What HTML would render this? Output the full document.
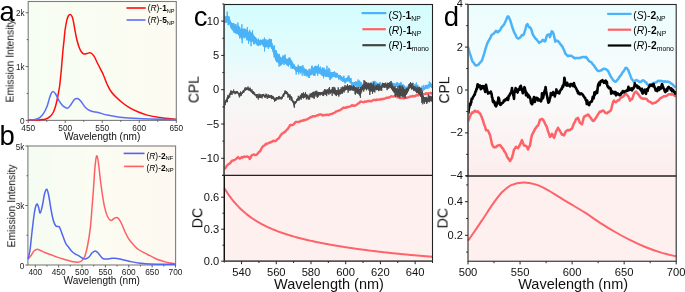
<!DOCTYPE html>
<html><head><meta charset="utf-8"><style>
html,body{margin:0;padding:0;background:#fff;width:685px;height:292px;overflow:hidden}
svg{display:block;font-family:"Liberation Sans", sans-serif;-webkit-font-smoothing:antialiased}
text{will-change:transform}
</style></head><body>
<svg xmlns="http://www.w3.org/2000/svg" width="685" height="292" viewBox="0 0 685 292" font-family='"Liberation Sans", sans-serif'>
<defs><linearGradient id="ga" x1="0" y1="0" x2="1" y2="0"><stop offset="0" stop-color="#f6fef3"/><stop offset="1" stop-color="#fdfbf2"/></linearGradient>
<linearGradient id="gb" x1="0" y1="0" x2="1" y2="0"><stop offset="0" stop-color="#f5fcf2"/><stop offset="0.5" stop-color="#fcfcf2"/><stop offset="1" stop-color="#fdf8f1"/></linearGradient>
<linearGradient id="gc" x1="0" y1="0" x2="0" y2="1"><stop offset="0" stop-color="#d3fdfe"/><stop offset="0.25" stop-color="#e1fcfd"/><stop offset="0.5" stop-color="#f6f8f8"/><stop offset="0.75" stop-color="#fbf2f2"/><stop offset="1" stop-color="#fdeded"/></linearGradient>
<linearGradient id="gd" x1="0" y1="0" x2="0" y2="1"><stop offset="0" stop-color="#ebfdfe"/><stop offset="0.5" stop-color="#f9fbfb"/><stop offset="1" stop-color="#fdeded"/></linearGradient></defs>
<rect width="685" height="292" fill="#fff"/>
<rect x="28.2" y="1.5" width="148.10000000000002" height="118.9" fill="url(#ga)"/>
<rect x="28.2" y="1.5" width="148.10000000000002" height="118.9" fill="none" stroke="#7d7d7d" stroke-width="1.1"/>
<path d="M28.2 120.2C29.5 120.18 33.7 120.2 36 120.1C38.3 120 40.48 119.75 42 119.6C43.52 119.45 44.1 119.47 45.1 119.2C46.1 118.93 47.08 118.52 48 118C48.92 117.48 49.73 117.02 50.6 116.1C51.47 115.18 52.5 113.75 53.2 112.5C53.9 111.25 54.28 110.15 54.8 108.6C55.32 107.05 55.83 105.05 56.3 103.2C56.77 101.35 57.2 99.45 57.6 97.5C58 95.55 58.35 93.5 58.7 91.5C59.05 89.5 59.4 87.75 59.7 85.5C60 83.25 60.23 80.58 60.5 78C60.77 75.42 60.9 74.5 61.3 70C61.7 65.5 62.45 55.87 62.9 51C63.35 46.13 63.65 44.22 64 40.8C64.35 37.38 64.53 33.92 65 30.5C65.47 27.08 66.25 22.72 66.8 20.3C67.35 17.88 67.75 16.95 68.3 16C68.85 15.05 69.52 14.6 70.1 14.6C70.68 14.6 71.28 15.05 71.8 16C72.32 16.95 72.67 17.88 73.2 20.3C73.73 22.72 74.35 27.08 75 30.5C75.65 33.92 76.37 37.88 77.1 40.8C77.83 43.72 78.67 46.13 79.4 48C80.13 49.87 80.78 51.02 81.5 52C82.22 52.98 82.77 53.67 83.7 53.9C84.63 54.13 85.95 53.57 87.1 53.4C88.25 53.23 89.45 52.43 90.6 52.9C91.75 53.37 92.87 54.52 94 56.2C95.13 57.88 96.25 60.72 97.4 63C98.55 65.28 99.93 67.98 100.9 69.9C101.87 71.82 102.18 72.15 103.2 74.5C104.22 76.85 105.6 81.03 107 84C108.4 86.97 109.38 89.47 111.6 92.3C113.82 95.13 117.4 98.48 120.3 101C123.2 103.52 126.18 105.65 129 107.4C131.82 109.15 134.18 110.22 137.2 111.5C140.22 112.78 143.38 114.08 147.1 115.1C150.82 116.12 154.63 116.88 159.5 117.6C164.37 118.32 173.5 119.1 176.3 119.4" fill="none" stroke="#ff0d0d" stroke-width="1.5"/>
<path d="M28.2 119.6C29.33 119.58 33.02 119.88 35 119.5C36.98 119.12 38.62 118.4 40.1 117.3C41.58 116.2 42.75 114.68 43.9 112.9C45.05 111.12 46.05 109.13 47 106.6C47.95 104.07 48.85 99.98 49.6 97.7C50.35 95.42 50.87 93.92 51.5 92.9C52.13 91.88 52.67 91.33 53.4 91.6C54.13 91.87 54.95 92.95 55.9 94.5C56.85 96.05 57.93 99 59.1 100.9C60.27 102.8 61.53 104.68 62.9 105.9C64.27 107.12 66.03 108.3 67.3 108.2C68.57 108.1 69.33 106.73 70.5 105.3C71.67 103.87 73.13 100.73 74.3 99.6C75.47 98.47 76.43 98.28 77.5 98.5C78.57 98.72 79.33 99.35 80.7 100.9C82.07 102.45 84.02 106.12 85.7 107.8C87.38 109.48 88.68 110.2 90.8 111C92.92 111.8 95.63 111.92 98.4 112.6C101.17 113.28 103.83 114.33 107.4 115.1C110.97 115.87 114.63 116.63 119.8 117.2C124.97 117.77 128.98 118.1 138.4 118.5C147.82 118.9 169.98 119.42 176.3 119.6" fill="none" stroke="#5b6ff6" stroke-width="1.5"/>
<path d="M25.7 120.4H28.2M26.7 93.48H28.2M25.7 66.55H28.2M26.7 39.62H28.2M25.7 12.7H28.2M28.2 120.4V122.9M46.71 120.4V121.9M65.23 120.4V122.9M83.74 120.4V121.9M102.25 120.4V122.9M120.76 120.4V121.9M139.28 120.4V122.9M157.79 120.4V121.9M176.3 120.4V122.9" stroke="#555" stroke-width="0.9" fill="none"/>
<text x="24.6" y="123.9" font-size="8.2" text-anchor="end" fill="#222" >0</text>
<text x="24.6" y="70.05" font-size="8.2" text-anchor="end" fill="#222" >1k</text>
<text x="24.6" y="16.2" font-size="8.2" text-anchor="end" fill="#222" >2k</text>
<text x="28.2" y="131" font-size="8.3" text-anchor="middle" fill="#222" >450</text>
<text x="65.23" y="131" font-size="8.3" text-anchor="middle" fill="#222" >500</text>
<text x="102.25" y="131" font-size="8.3" text-anchor="middle" fill="#222" >550</text>
<text x="139.28" y="131" font-size="8.3" text-anchor="middle" fill="#222" >600</text>
<text x="176.3" y="131" font-size="8.3" text-anchor="middle" fill="#222" >650</text>
<text x="63.9" y="139.6" font-size="10.1" text-anchor="start" fill="#111" >Wavelength (nm)</text>
<text transform="translate(13.6 60.9) rotate(-90)" font-size="10.3" text-anchor="middle" fill="#111">Emission Intensity</text>
<path d="M126.4 8H145.7" stroke="#ff0d0d" stroke-width="1.6"/>
<path d="M126.6 20H145.5" stroke="#5b6ff6" stroke-width="1.6"/>
<text x="147.7" y="10.9" font-size="8.4">(<tspan font-style="italic">R</tspan>)-<tspan font-weight="bold">1</tspan><tspan font-size="5.6" dy="1.6">NP</tspan></text>
<text x="147.7" y="22.9" font-size="8.4">(<tspan font-style="italic">R</tspan>)-<tspan font-weight="bold">5</tspan><tspan font-size="5.6" dy="1.6">NP</tspan></text>
<rect x="27.9" y="146.0" width="147.7" height="119.0" fill="url(#gb)"/>
<rect x="27.9" y="146.0" width="147.7" height="119.0" fill="none" stroke="#7d7d7d" stroke-width="1.1"/>
<path d="M28 259C28.5 258.42 30 256.83 31 255.5C32 254.17 32.95 252.03 34 251C35.05 249.97 36.13 249.33 37.3 249.3C38.47 249.27 39.63 250.22 41 250.8C42.37 251.38 43.83 252.13 45.5 252.8C47.17 253.47 49.07 254.08 51 254.8C52.93 255.52 54.93 256.35 57.1 257.1C59.27 257.85 61.57 258.57 64 259.3C66.43 260.03 69.45 261 71.7 261.5C73.95 262 75.87 262.38 77.5 262.3C79.13 262.22 80.28 262 81.5 261C82.72 260 83.8 258.8 84.8 256.3C85.8 253.8 86.58 250.68 87.5 246C88.42 241.32 89.55 234.53 90.3 228.2C91.05 221.87 91.45 214.85 92 208C92.55 201.15 93.1 193.93 93.6 187.1C94.1 180.27 94.5 172.18 95 167C95.5 161.82 96.05 156.83 96.6 156C97.15 155.17 97.65 157.83 98.3 162C98.95 166.17 99.78 175.33 100.5 181C101.22 186.67 101.9 191.55 102.6 196C103.3 200.45 103.88 204.28 104.7 207.7C105.52 211.12 106.48 214.37 107.5 216.5C108.52 218.63 109.72 220.17 110.8 220.5C111.88 220.83 113.05 219.02 114 218.5C114.95 217.98 115.75 217.4 116.5 217.4C117.25 217.4 117.67 217.48 118.5 218.5C119.33 219.52 120.38 221.2 121.5 223.5C122.62 225.8 123.95 229.67 125.2 232.3C126.45 234.93 127.63 237.25 129 239.3C130.37 241.35 131.83 242.9 133.4 244.6C134.97 246.3 136.47 248.07 138.4 249.5C140.33 250.93 143.07 252.17 145 253.2C146.93 254.23 148.33 254.87 150 255.7C151.67 256.53 153.33 257.43 155 258.2C156.67 258.97 158.33 259.68 160 260.3C161.67 260.92 163.33 261.45 165 261.9C166.67 262.35 168.23 262.68 170 263C171.77 263.32 174.67 263.67 175.6 263.8" fill="none" stroke="#fd5f67" stroke-width="1.5"/>
<path d="M28 259.2C28.33 257.67 29.33 254.53 30 250C30.67 245.47 31.25 238.33 32 232C32.75 225.67 33.72 216.63 34.5 212C35.28 207.37 36.03 205.03 36.7 204.2C37.37 203.37 37.92 205.53 38.5 207C39.08 208.47 39.53 213.33 40.2 213C40.87 212.67 41.78 208.17 42.5 205C43.22 201.83 43.78 196.62 44.5 194C45.22 191.38 46.08 188.97 46.8 189.3C47.52 189.63 48.05 192.38 48.8 196C49.55 199.62 50.52 206.83 51.3 211C52.08 215.17 52.77 218.53 53.5 221C54.23 223.47 54.95 224.88 55.7 225.8C56.45 226.72 57.35 226.23 58 226.5C58.65 226.77 58.85 225.98 59.6 227.4C60.35 228.82 61.47 232.32 62.5 235C63.53 237.68 64.75 241.42 65.8 243.5C66.85 245.58 67.82 246.2 68.8 247.5C69.78 248.8 70.67 250.25 71.7 251.3C72.73 252.35 73.8 253.05 75 253.8C76.2 254.55 77.52 255 78.9 255.8C80.28 256.6 82.12 258.1 83.3 258.6C84.48 259.1 85.05 259.07 86 258.8C86.95 258.53 88 257.97 89 257C90 256.03 90.93 254.02 92 253C93.07 251.98 94.32 250.82 95.4 250.9C96.48 250.98 97.3 252.27 98.5 253.5C99.7 254.73 101.18 257.38 102.6 258.3C104.02 259.22 105.43 259 107 259C108.57 259 110.33 258.4 112 258.3C113.67 258.2 115.33 258.18 117 258.4C118.67 258.62 119.83 259.1 122 259.6C124.17 260.1 127 260.8 130 261.4C133 262 136.67 262.77 140 263.2C143.33 263.63 144.07 263.82 150 264C155.93 264.18 171.33 264.25 175.6 264.3" fill="none" stroke="#5065f2" stroke-width="1.5"/>
<path d="M25.4 146H27.9M26.4 175.75H27.9M25.4 205.5H27.9M26.4 235.25H27.9M25.4 265H27.9M35.3 265V267.5M46.98 265V266.5M58.66 265V267.5M70.35 265V266.5M82.03 265V267.5M93.71 265V266.5M105.39 265V267.5M117.08 265V266.5M128.76 265V267.5M140.44 265V266.5M152.12 265V267.5M163.81 265V266.5M175.49 265V267.5" stroke="#555" stroke-width="0.9" fill="none"/>
<text x="24.3" y="149.5" font-size="8.2" text-anchor="end" fill="#222" >5k</text>
<text x="24.3" y="209" font-size="8.2" text-anchor="end" fill="#222" >3k</text>
<text x="24.3" y="268.5" font-size="8.2" text-anchor="end" fill="#222" >0</text>
<text x="35.3" y="275" font-size="8.3" text-anchor="middle" fill="#222" >400</text>
<text x="58.66" y="275" font-size="8.3" text-anchor="middle" fill="#222" >450</text>
<text x="82.03" y="275" font-size="8.3" text-anchor="middle" fill="#222" >500</text>
<text x="105.39" y="275" font-size="8.3" text-anchor="middle" fill="#222" >550</text>
<text x="128.76" y="275" font-size="8.3" text-anchor="middle" fill="#222" >600</text>
<text x="152.12" y="275" font-size="8.3" text-anchor="middle" fill="#222" >650</text>
<text x="175.49" y="275" font-size="8.3" text-anchor="middle" fill="#222" >700</text>
<text x="63.5" y="283.7" font-size="10.1" text-anchor="start" fill="#111" >Wavelength (nm)</text>
<text transform="translate(15.2 205.9) rotate(-90)" font-size="10.3" text-anchor="middle" fill="#111">Emission Intensity</text>
<path d="M123.6 153.4H144.5" stroke="#5065f2" stroke-width="1.6"/>
<path d="M124.1 166.4H143.8" stroke="#fd5f67" stroke-width="1.6"/>
<text x="146.5" y="158.6" font-size="8.4">(<tspan font-style="italic">R</tspan>)-<tspan font-weight="bold">2</tspan><tspan font-size="5.8" dy="1">NF</tspan></text>
<text x="146.5" y="170.6" font-size="8.4">(<tspan font-style="italic">R</tspan>)-<tspan font-weight="bold">2</tspan><tspan font-size="5.8" dy="1">NP</tspan></text>
<rect x="224.2" y="4.5" width="208.3" height="170.9" fill="url(#gc)"/>
<rect x="224.2" y="175.4" width="208.3" height="85.79999999999998" fill="#fff0f0"/>
<clipPath id="cc"><rect x="224.2" y="4.5" width="208.3" height="170.9"/></clipPath>
<g clip-path="url(#cc)">
<path d="M223.6 169.83 L224.5 168.76 L225.4 168.07 L226.3 166.73 L227.2 165.25 L228.1 164.57 L229 164.03 L229.9 163.16 L230.8 162.57 L231.7 160.84 L232.6 160.55 L233.5 160.44 L234.4 159.98 L235.3 159.53 L236.2 158.95 L237.1 157.94 L238 157.13 L238.9 158.03 L239.8 158.65 L240.7 158.04 L241.6 157.3 L242.5 157.69 L243.4 156.74 L244.3 156.57 L245.2 156.93 L246.1 156.57 L247 156.37 L247.9 156.89 L248.8 156.86 L249.7 158.91 L250.6 157.81 L251.5 155.63 L252.4 155.06 L253.3 154.7 L254.2 154.38 L255.1 155.09 L256 155.12 L256.9 154.53 L257.8 153.52 L258.7 152.08 L259.6 151.7 L260.5 150.64 L261.4 148.62 L262.3 147.15 L263.2 146.08 L264.1 145.66 L265 145.09 L265.9 143.72 L266.8 144.05 L267.7 143.35 L268.6 143.14 L269.5 142.54 L270.4 142.64 L271.3 141.73 L272.2 141.71 L273.1 140.7 L274 140.96 L274.9 140.81 L275.8 141 L276.7 139.93 L277.6 139.01 L278.5 138.62 L279.4 137.45 L280.3 135.75 L281.2 134.74 L282.1 133.47 L283 133.42 L283.9 132.17 L284.8 132.26 L285.7 131.02 L286.6 129.98 L287.5 129.29 L288.4 127.96 L289.3 126.61 L290.2 124.9 L291.1 125.18 L292 124.93 L292.9 125.02 L293.8 123.92 L294.7 123.24 L295.6 122 L296.5 121.92 L297.4 121.85 L298.3 121.95 L299.2 121.85 L300.1 121.41 L301 120.77 L301.9 120.86 L302.8 120.77 L303.7 119.93 L304.6 120.25 L305.5 119.72 L306.4 119.57 L307.3 119.17 L308.2 118.7 L309.1 118.09 L310 117.65 L310.9 117.01 L311.8 116.97 L312.7 116.32 L313.6 116.32 L314.5 116.15 L315.4 116.2 L316.3 115.7 L317.2 115.21 L318.1 115.46 L319 114.58 L319.9 114.48 L320.8 114.39 L321.7 114.72 L322.6 115.52 L323.5 115.16 L324.4 115.05 L325.3 114.98 L326.2 115.03 L327.1 114.61 L328 114.94 L328.9 114.96 L329.8 114.33 L330.7 114.17 L331.6 114.04 L332.5 113.58 L333.4 113.09 L334.3 112.75 L335.2 112.35 L336.1 111.44 L337 111.33 L337.9 110.89 L338.8 110.51 L339.7 110.47 L340.6 109.68 L341.5 109.26 L342.4 108.53 L343.3 107.6 L344.2 107.79 L345.1 107.62 L346 107.79 L346.9 107 L347.8 106.85 L348.7 106.94 L349.6 106.61 L350.5 106.42 L351.4 105.54 L352.3 105.1 L353.2 105.97 L354.1 105.56 L355 105.68 L355.9 105.17 L356.8 104.6 L357.7 103.86 L358.6 103.3 L359.5 102.72 L360.4 101.46 L361.3 101.72 L362.2 101.95 L363.1 102.15 L364 102.25 L364.9 101.34 L365.8 101.56 L366.7 101.74 L367.6 100.86 L368.5 101.23 L369.4 100.77 L370.3 101.21 L371.2 101.27 L372.1 100.81 L373 100.11 L373.9 99.93 L374.8 100.02 L375.7 100.19 L376.6 99.53 L377.5 99.88 L378.4 99.59 L379.3 99.42 L380.2 99.74 L381.1 99.19 L382 99.04 L382.9 99.2 L383.8 98.76 L384.7 98.82 L385.6 98.32 L386.5 97.71 L387.4 97.68 L388.3 97.78 L389.2 97.21 L390.1 97.3 L391 96.25 L391.9 96.38 L392.8 96.58 L393.7 96.33 L394.6 96.03 L395.5 96.26 L396.4 96.83 L397.3 97.03 L398.2 97.29 L399.1 97.68 L400 98.15 L400.9 97.84 L401.8 98.15 L402.7 98.1 L403.6 98.26 L404.5 97.98 L405.4 97.47 L406.3 97.7 L407.2 97.75 L408.1 97.32 L409 97.09 L409.9 96.63 L410.8 96.43 L411.7 96.59 L412.6 95.85 L413.5 96.4 L414.4 96.25 L415.3 96.15 L416.2 95.21 L417.1 94.99 L418 95.49 L418.9 94.85 L419.8 94.54 L420.7 94.47 L421.6 94.56 L422.5 93.95 L423.4 94.08 L424.3 94.07 L425.2 93.97 L426.1 93.23 L427 93.84 L427.9 93.39 L428.8 93.29 L429.7 93.29 L430.6 92.95 L431.5 93.43 L432.4 92.75" fill="none" stroke="#fe6266" stroke-width="2.4" stroke-linejoin="round"/>
<path d="M223.6 16.24 L224.1 16.05 L224.6 16.13 L225.1 15.67 L225.6 16.13 L226.1 16.33 L226.6 15.67 L227.1 15.2 L227.6 16.05 L228.1 16.15 L228.6 16.39 L229.1 17.76 L229.6 19.32 L230.1 20.05 L230.6 21.44 L231.1 22.1 L231.6 22.37 L232.1 22.87 L232.6 23.92 L233.1 23.81 L233.6 24.21 L234.1 24.67 L234.6 24.83 L235.1 24.75 L235.6 25.19 L236.1 25.53 L236.6 25.89 L237.1 25.88 L237.6 25.89 L238.1 25.95 L238.6 26.78 L239.1 26.78 L239.6 27.74 L240.1 28.07 L240.6 28.54 L241.1 28.69 L241.6 28.67 L242.1 28.65 L242.6 29.09 L243.1 28.72 L243.6 28.33 L244.1 28.29 L244.6 28.78 L245.1 28.7 L245.6 28.92 L246.1 29.27 L246.6 30.01 L247.1 30.08 L247.6 30.87 L248.1 30.78 L248.6 31.53 L249.1 31.88 L249.6 31.67 L250.1 31.24 L250.6 32.1 L251.1 32.46 L251.6 33.63 L252.1 33.61 L252.6 34.23 L253.1 34.84 L253.6 35.52 L254.1 36.41 L254.6 36.47 L255.1 37.02 L255.6 37.13 L256.1 37.9 L256.6 38.73 L257.1 39.52 L257.6 40.08 L258.1 40.3 L258.6 40.52 L259.1 40.7 L259.6 40.98 L260.1 40.73 L260.6 40.57 L261.1 40.29 L261.6 40.12 L262.1 39.76 L262.6 40.51 L263.1 40.26 L263.6 40.67 L264.1 41.26 L264.6 40.85 L265.1 41 L265.6 40.78 L266.1 40.57 L266.6 40.37 L267.1 40.44 L267.6 40.16 L268.1 39.23 L268.6 39.64 L269.1 38.78 L269.6 38.23 L270.1 38.53 L270.6 39.51 L271.1 40.47 L271.6 41.68 L272.1 42.51 L272.6 44.24 L273.1 46.18 L273.6 47.55 L274.1 48.14 L274.6 49.59 L275.1 50.03 L275.6 51.4 L276.1 51.82 L276.6 52.03 L277.1 52.56 L277.6 53.37 L278.1 53.86 L278.6 54.68 L279.1 55.14 L279.6 56.14 L280.1 56.7 L280.6 57.35 L281.1 56.96 L281.6 57.5 L282.1 57.38 L282.6 56.7 L283.1 56.97 L283.6 56.66 L284.1 56.92 L284.6 56.6 L285.1 57.29 L285.6 58.18 L286.1 58.74 L286.6 58.84 L287.1 58.63 L287.6 58.76 L288.1 58.18 L288.6 57.85 L289.1 57.65 L289.6 57.66 L290.1 57.05 L290.6 58.42 L291.1 59.5 L291.6 60.01 L292.1 60.84 L292.6 62.04 L293.1 62.52 L293.6 64.05 L294.1 64.68 L294.6 65.67 L295.1 66.47 L295.6 66.22 L296.1 66.62 L296.6 66.88 L297.1 67.07 L297.6 66.88 L298.1 66.76 L298.6 66.47 L299.1 66.7 L299.6 67.03 L300.1 66.27 L300.6 66.8 L301.1 66.57 L301.6 67.27 L302.1 67.24 L302.6 66.9 L303.1 67.72 L303.6 67.51 L304.1 68.22 L304.6 68.27 L305.1 68.76 L305.6 69.08 L306.1 69.72 L306.6 70.18 L307.1 70.14 L307.6 70.34 L308.1 70.49 L308.6 71.14 L309.1 70.72 L309.6 71.01 L310.1 70.44 L310.6 70.19 L311.1 69.67 L311.6 69.65 L312.1 69.05 L312.6 69.21 L313.1 68.69 L313.6 68.22 L314.1 68.03 L314.6 67.09 L315.1 66.68 L315.6 66.25 L316.1 66.13 L316.6 66.14 L317.1 65.44 L317.6 65.96 L318.1 66.44 L318.6 66.71 L319.1 66.78 L319.6 67.39 L320.1 68.23 L320.6 68.31 L321.1 68.87 L321.6 69.05 L322.1 69.93 L322.6 70.2 L323.1 70.7 L323.6 70.32 L324.1 70.15 L324.6 69.88 L325.1 69.95 L325.6 69.34 L326.1 69.47 L326.6 69.8 L327.1 69.72 L327.6 70.1 L328.1 70.55 L328.6 71.22 L329.1 71.89 L329.6 71.84 L330.1 72.24 L330.6 72.63 L331.1 72.11 L331.6 71.76 L332.1 72.06 L332.6 72.04 L333.1 72 L333.6 71.88 L334.1 72.31 L334.6 72.44 L335.1 73.14 L335.6 72.59 L336.1 73.42 L336.6 73.12 L337.1 73.35 L337.6 74.4 L338.1 75 L338.6 75.09 L339.1 75.92 L339.6 76.27 L340.1 77.12 L340.6 77.31 L341.1 76.89 L341.6 77.06 L342.1 76.96 L342.6 77.21 L343.1 77.41 L343.6 78.23 L344.1 78.14 L344.6 78.53 L345.1 78.49 L345.6 78.63 L346.1 78.35 L346.6 77.66 L347.1 76.94 L347.6 76.82 L348.1 76.46 L348.6 76.33 L349.1 76.78 L349.6 77.59 L350.1 78.46 L350.6 79.7 L351.1 80.16 L351.6 80.87 L352.1 81.99 L352.6 82.15 L353.1 82 L353.6 82.46 L354.1 82.67 L354.6 82.35 L355.1 81.92 L355.6 81.79 L356.1 81.9 L356.6 81.5 L357.1 80.95 L357.6 81.23 L358.1 81.7 L358.6 81.35 L359.1 81.8 L359.6 82.07 L360.1 82.04 L360.6 82.73 L361.1 82.69 L361.6 83.95 L362.1 84.49 L362.6 85.32 L363.1 85.73 L363.6 86.22 L364.1 86.37 L364.6 86.08 L365.1 86.15 L365.6 85.66 L366.1 85.77 L366.6 84.89 L367.1 84.5 L367.6 84.83 L368.1 84.76 L368.6 84.12 L369.1 84.28 L369.6 83.96 L370.1 83.8 L370.6 83.42 L371.1 83.16 L371.6 83.13 L372.1 83.21 L372.6 83.33 L373.1 83.29 L373.6 83.16 L374.1 83.27 L374.6 82.49 L375.1 82.41 L375.6 82.58 L376.1 82.41 L376.6 82.92 L377.1 82.72 L377.6 83.35 L378.1 82.82 L378.6 83.52 L379.1 83.21 L379.6 84.3 L380.1 84.32 L380.6 84.7 L381.1 85.05 L381.6 85.44 L382.1 85.39 L382.6 84.87 L383.1 84.02 L383.6 83.87 L384.1 83.8 L384.6 83.69 L385.1 84.45 L385.6 84.56 L386.1 84.81 L386.6 84.55 L387.1 84.7 L387.6 84.2 L388.1 83.9 L388.6 83.84 L389.1 83 L389.6 82.99 L390.1 82.35 L390.6 82.61 L391.1 82.04 L391.6 82.69 L392.1 82.23 L392.6 82.67 L393.1 83.39 L393.6 83.5 L394.1 83.6 L394.6 83.69 L395.1 83.94 L395.6 83.62 L396.1 83.93 L396.6 83.71 L397.1 83.54 L397.6 83.82 L398.1 83.68 L398.6 84 L399.1 84.35 L399.6 84.38 L400.1 83.7 L400.6 83.8 L401.1 84.22 L401.6 83.99 L402.1 84.28 L402.6 84.4 L403.1 85.35 L403.6 85.17 L404.1 86.04 L404.6 85.99 L405.1 86.51 L405.6 87.32 L406.1 86.8 L406.6 87.24 L407.1 86.48 L407.6 86.51 L408.1 85.61 L408.6 85.33 L409.1 85.24 L409.6 84.49 L410.1 84.67 L410.6 85.11 L411.1 84.66 L411.6 85.01 L412.1 85.44 L412.6 85.47 L413.1 85.83 L413.6 85.64 L414.1 85.68 L414.6 84.95 L415.1 85.28 L415.6 84.51 L416.1 84.42 L416.6 84.55 L417.1 84.83 L417.6 86.04 L418.1 86.59 L418.6 87.22 L419.1 87.48 L419.6 88.27 L420.1 88.35 L420.6 88.62 L421.1 88.28 L421.6 87.99 L422.1 88.06 L422.6 87.44 L423.1 87.2 L423.6 87.16 L424.1 86.91 L424.6 86.89 L425.1 85.89 L425.6 86.3 L426.1 85.63 L426.6 85 L427.1 84.93 L427.6 84.73 L428.1 84.2 L428.6 83.89 L429.1 84.07 L429.6 83.68 L430.1 84.17 L430.6 83.8 L431.1 83.93 L431.6 84.52 L432.1 84.96 L432.1 87.51 L431.6 87.34 L431.1 87.03 L430.6 86.93 L430.1 86.34 L429.6 86.51 L429.1 86.04 L428.6 86.79 L428.1 86.83 L427.6 87.55 L427.1 87.53 L426.6 88.18 L426.1 88.21 L425.6 88.21 L425.1 89.15 L424.6 89.31 L424.1 89.68 L423.6 89.65 L423.1 90.23 L422.6 90.1 L422.1 90.45 L421.6 90.69 L421.1 91.1 L420.6 90.64 L420.1 90.56 L419.6 90.56 L419.1 89.94 L418.6 89.99 L418.1 89.33 L417.6 88.15 L417.1 87.22 L416.6 87.38 L416.1 86.85 L415.6 87.28 L415.1 87.37 L414.6 87.4 L414.1 87.62 L413.6 88.17 L413.1 87.97 L412.6 87.63 L412.1 87.4 L411.6 87.28 L411.1 87.37 L410.6 87.2 L410.1 87.36 L409.6 86.99 L409.1 87.28 L408.6 87.89 L408.1 88.38 L407.6 88.43 L407.1 88.91 L406.6 89.31 L406.1 89.67 L405.6 89.6 L405.1 88.89 L404.6 88.47 L404.1 88.51 L403.6 88.04 L403.1 87.32 L402.6 87.32 L402.1 86.56 L401.6 86.27 L401.1 86.57 L400.6 86.13 L400.1 86.03 L399.6 86.28 L399.1 86.04 L398.6 86.34 L398.1 85.6 L397.6 85.34 L397.1 85.44 L396.6 85.15 L396.1 85.72 L395.6 85.31 L395.1 85.73 L394.6 85.68 L394.1 85.93 L393.6 85.79 L393.1 85.5 L392.6 85.14 L392.1 84.5 L391.6 84.5 L391.1 84.08 L390.6 84.01 L390.1 84.82 L389.6 85.1 L389.1 85.13 L388.6 85.8 L388.1 85.81 L387.6 86.09 L387.1 86.76 L386.6 86.46 L386.1 86.89 L385.6 86.69 L385.1 86.53 L384.6 85.81 L384.1 86.13 L383.6 86.27 L383.1 86.83 L382.6 86.79 L382.1 87.38 L381.6 87.43 L381.1 87.42 L380.6 86.67 L380.1 86.47 L379.6 86.04 L379.1 85.63 L378.6 85.62 L378.1 85.29 L377.6 85.68 L377.1 84.93 L376.6 85.42 L376.1 85.46 L375.6 85.35 L375.1 84.88 L374.6 85.22 L374.1 85.21 L373.6 85.6 L373.1 85.76 L372.6 85.25 L372.1 85.68 L371.6 85.66 L371.1 85.46 L370.6 85.65 L370.1 86.18 L369.6 86.15 L369.1 86.26 L368.6 86.62 L368.1 87.06 L367.6 87.58 L367.1 87.78 L366.6 88.14 L366.1 88.75 L365.6 88.89 L365.1 89.13 L364.6 89.54 L364.1 89.38 L363.6 89.37 L363.1 89.64 L362.6 89.09 L362.1 87.91 L361.6 87.86 L361.1 87.3 L360.6 87.07 L360.1 86.52 L359.6 86.76 L359.1 86.23 L358.6 86.15 L358.1 85.23 L357.6 85.61 L357.1 84.64 L356.6 84.87 L356.1 84.9 L355.6 85.32 L355.1 85.61 L354.6 85.36 L354.1 85.48 L353.6 86.09 L353.1 85.9 L352.6 85.73 L352.1 84.88 L351.6 84.63 L351.1 83.66 L350.6 83 L350.1 82.26 L349.6 82 L349.1 81.3 L348.6 81.01 L348.1 80.88 L347.6 81.58 L347.1 81.29 L346.6 81.97 L346.1 82.67 L345.6 82.6 L345.1 82.46 L344.6 82.4 L344.1 81.76 L343.6 81.26 L343.1 80.89 L342.6 80.57 L342.1 80.59 L341.6 80.25 L341.1 80 L340.6 79.34 L340.1 79.67 L339.6 79.17 L339.1 78.67 L338.6 78.48 L338.1 78.06 L337.6 77.74 L337.1 77.17 L336.6 77.33 L336.1 77.12 L335.6 77.52 L335.1 77.34 L334.6 77.04 L334.1 77.28 L333.6 76.7 L333.1 77.07 L332.6 77 L332.1 76.98 L331.6 77.09 L331.1 77.61 L330.6 77.76 L330.1 77.6 L329.6 77.55 L329.1 77.92 L328.6 77.42 L328.1 77.01 L327.6 77.03 L327.1 76.32 L326.6 75.98 L326.1 76.28 L325.6 76.14 L325.1 76.42 L324.6 76.08 L324.1 76.17 L323.6 76.75 L323.1 76.56 L322.6 75.93 L322.1 76.05 L321.6 75.63 L321.1 74.9 L320.6 74.04 L320.1 74.32 L319.6 73.79 L319.1 72.87 L318.6 72.48 L318.1 71.96 L317.6 71.75 L317.1 71.6 L316.6 72.1 L316.1 72.16 L315.6 72.81 L315.1 73.09 L314.6 73.5 L314.1 73.92 L313.6 74.56 L313.1 74.45 L312.6 74.31 L312.1 74.45 L311.6 75.17 L311.1 74.8 L310.6 75.38 L310.1 76.03 L309.6 76.02 L309.1 75.97 L308.6 76.49 L308.1 76.14 L307.6 76.06 L307.1 76.41 L306.6 75.79 L306.1 75.9 L305.6 75.52 L305.1 74.42 L304.6 74.16 L304.1 74.24 L303.6 73.61 L303.1 72.84 L302.6 73 L302.1 72.49 L301.6 72.37 L301.1 72.31 L300.6 71.91 L300.1 72.2 L299.6 72.05 L299.1 71.83 L298.6 72.19 L298.1 71.95 L297.6 71.54 L297.1 71.78 L296.6 71.53 L296.1 71.57 L295.6 71.05 L295.1 69.74 L294.6 69.91 L294.1 69.19 L293.6 68.43 L293.1 67.7 L292.6 67.35 L292.1 67.14 L291.6 66.39 L291.1 65.58 L290.6 64.91 L290.1 65.08 L289.6 64.99 L289.1 64.36 L288.6 64.68 L288.1 65.23 L287.6 65.2 L287.1 65.73 L286.6 65.16 L286.1 64.43 L285.6 63.86 L285.1 63.04 L284.6 62.98 L284.1 63.19 L283.6 62.69 L283.1 63.75 L282.6 64.17 L282.1 63.99 L281.6 64.43 L281.1 65 L280.6 64.75 L280.1 64.68 L279.6 63.98 L279.1 63.95 L278.6 63.24 L278.1 63.19 L277.6 62.45 L277.1 62.24 L276.6 62.26 L276.1 62.05 L275.6 60.61 L275.1 59.65 L274.6 58.04 L274.1 55.81 L273.6 54.07 L273.1 52.3 L272.6 50.59 L272.1 49.69 L271.6 48.37 L271.1 47.34 L270.6 46.6 L270.1 46.04 L269.6 46.44 L269.1 46.29 L268.6 47.01 L268.1 47.06 L267.6 47.03 L267.1 47.23 L266.6 47.35 L266.1 47.62 L265.6 47.86 L265.1 47.32 L264.6 47.71 L264.1 47.1 L263.6 46.82 L263.1 46.45 L262.6 45.56 L262.1 45.34 L261.6 44.47 L261.1 44.39 L260.6 44.54 L260.1 44.07 L259.6 44.83 L259.1 45.73 L258.6 46.25 L258.1 46.02 L257.6 46.11 L257.1 45.53 L256.6 45.02 L256.1 44.28 L255.6 43.25 L255.1 43.02 L254.6 42.13 L254.1 42.21 L253.6 42.2 L253.1 42.02 L252.6 41.83 L252.1 41.79 L251.6 41.56 L251.1 41.34 L250.6 41.38 L250.1 41.13 L249.6 41.24 L249.1 40.95 L248.6 40.9 L248.1 40.13 L247.6 40.14 L247.1 39.29 L246.6 39.08 L246.1 38.54 L245.6 37.32 L245.1 37.31 L244.6 37.1 L244.1 37.94 L243.6 37.48 L243.1 38.45 L242.6 38.31 L242.1 38.2 L241.6 37.94 L241.1 38.16 L240.6 37.79 L240.1 36.68 L239.6 36.67 L239.1 35.52 L238.6 34.89 L238.1 34.57 L237.6 34.2 L237.1 33.74 L236.6 34.18 L236.1 34.09 L235.6 33.66 L235.1 33.02 L234.6 33.17 L234.1 32.29 L233.6 31.84 L233.1 31.57 L232.6 30.73 L232.1 30.06 L231.6 29.52 L231.1 28.5 L230.6 27.66 L230.1 26.33 L229.6 24.98 L229.1 23.75 L228.6 23.3 L228.1 22.05 L227.6 22.37 L227.1 22.22 L226.6 22.35 L226.1 22.84 L225.6 23.01 L225.1 23.31 L224.6 23.18 L224.1 23.04 L223.6 23.3Z" fill="#4bb3f8"/>
<path d="M223.6 20.78 L223.75 22.19 L223.9 20.65 L224.05 15.66 L224.2 22.32 L224.35 20.91 L224.5 17.94 L224.65 21.28 L224.8 20.62 L224.95 20.4 L225.1 19.61 L225.25 21.12 L225.4 17.36 L225.55 19.02 L225.7 18.07 L225.85 21.16 L226 19.51 L226.15 18.5 L226.3 17.04 L226.45 18.45 L226.6 19.11 L226.75 18.21 L226.9 22.48 L227.05 21.59 L227.2 11.61 L227.35 13.64 L227.5 18.4 L227.65 17.78 L227.8 19.58 L227.95 19.68 L228.1 24.93 L228.25 16.33 L228.4 18.49 L228.55 25.16 L228.7 21.65 L228.85 21.96 L229 19.13 L229.15 16.49 L229.3 21.62 L229.45 21.85 L229.6 18.78 L229.75 20.61 L229.9 22.63 L230.05 20.77 L230.2 23.26 L230.35 24.07 L230.5 24.22 L230.65 23.05 L230.8 26.31 L230.95 27.42 L231.1 26.12 L231.25 23.19 L231.4 27.79 L231.55 24.51 L231.7 28.7 L231.85 23.23 L232 29.25 L232.15 26.67 L232.3 23.16 L232.45 26.13 L232.6 27.41 L232.75 28.24 L232.9 24.49 L233.05 24.22 L233.2 28.48 L233.35 26.49 L233.5 28.88 L233.65 30.72 L233.8 22.95 L233.95 29.33 L234.1 32.67 L234.25 27.72 L234.4 26.11 L234.55 31.41 L234.7 29.85 L234.85 32.08 L235 28.02 L235.15 24.3 L235.3 28.96 L235.45 27.91 L235.6 32.06 L235.75 30.18 L235.9 24.11 L236.05 25.62 L236.2 32.66 L236.35 32.02 L236.5 27.62 L236.65 29.8 L236.8 31.35 L236.95 31.46 L237.1 32.88 L237.25 30.83 L237.4 29.69 L237.55 29.19 L237.7 33.71 L237.85 22.58 L238 29.82 L238.15 30.51 L238.3 25.64 L238.45 31.79 L238.6 28.54 L238.75 33.92 L238.9 30.66 L239.05 33.61 L239.2 35.73 L239.35 32.98 L239.5 28.71 L239.65 26.61 L239.8 38.43 L239.95 31.95 L240.1 30.04 L240.25 33.2 L240.4 32.13 L240.55 36.07 L240.7 33.21 L240.85 33.25 L241 30.67 L241.15 35.12 L241.3 29.61 L241.45 36 L241.6 39.26 L241.75 27.85 L241.9 24.27 L242.05 35.93 L242.2 43.25 L242.35 29.87 L242.5 28.95 L242.65 35.84 L242.8 30.46 L242.95 31.67 L243.1 32.22 L243.25 35.44 L243.4 31.89 L243.55 34.35 L243.7 32.6 L243.85 30.07 L244 31.94 L244.15 29.57 L244.3 33.03 L244.45 28.86 L244.6 28.96 L244.75 38.24 L244.9 32.76 L245.05 32.79 L245.2 34.89 L245.35 31.6 L245.5 32.38 L245.65 34.85 L245.8 34.48 L245.95 29.48 L246.1 36.74 L246.25 31.76 L246.4 30.21 L246.55 30.92 L246.7 32.92 L246.85 40.45 L247 30.38 L247.15 35.45 L247.3 27.15 L247.45 35.2 L247.6 38.71 L247.75 34.64 L247.9 33.31 L248.05 36.66 L248.2 38.54 L248.35 38.51 L248.5 43.58 L248.65 36.95 L248.8 33.95 L248.95 35.77 L249.1 36.01 L249.25 36.73 L249.4 36.21 L249.55 37.02 L249.7 29.84 L249.85 39.63 L250 34.15 L250.15 31.9 L250.3 38.94 L250.45 41.53 L250.6 38.47 L250.75 37.31 L250.9 33.45 L251.05 46.23 L251.2 40.17 L251.35 33.24 L251.5 34.67 L251.65 37.77 L251.8 32.46 L251.95 38.31 L252.1 36.42 L252.25 41.91 L252.4 41.14 L252.55 30.29 L252.7 38.48 L252.85 33.66 L253 41.77 L253.15 39.09 L253.3 40.23 L253.45 35.82 L253.6 43.79 L253.75 44.28 L253.9 36.22 L254.05 40.04 L254.2 37.42 L254.35 39.18 L254.5 36.09 L254.65 44.26 L254.8 37.1 L254.95 38.97 L255.1 41.18 L255.25 38.39 L255.4 39.63 L255.55 38.98 L255.7 40.28 L255.85 37.81 L256 39.9 L256.15 40.7 L256.3 40.58 L256.45 41.78 L256.6 41.07 L256.75 43.96 L256.9 41.36 L257.05 42.01 L257.2 40.81 L257.35 41.31 L257.5 39.55 L257.65 44.25 L257.8 40.08 L257.95 41.18 L258.1 44.07 L258.25 44.21 L258.4 42.31 L258.55 38.64 L258.7 44.21 L258.85 43.82 L259 40.3 L259.15 44.71 L259.3 41.76 L259.45 40.94 L259.6 43.1 L259.75 42.52 L259.9 43.04 L260.05 40.05 L260.2 45.49 L260.35 41.39 L260.5 39.62 L260.65 43.38 L260.8 41.53 L260.95 42.79 L261.1 41.48 L261.25 42.04 L261.4 42.73 L261.55 40.68 L261.7 43.89 L261.85 41.47 L262 40.67 L262.15 42.94 L262.3 43.9 L262.45 42.4 L262.6 40.99 L262.75 44.72 L262.9 39.01 L263.05 40.93 L263.2 43.75 L263.35 40.32 L263.5 43.99 L263.65 43.88 L263.8 46.48 L263.95 41.77 L264.1 42.57 L264.25 45.17 L264.4 37.59 L264.55 51.4 L264.7 42.29 L264.85 42.13 L265 46.53 L265.15 43.99 L265.3 39.02 L265.45 45.88 L265.6 46.52 L265.75 42.73 L265.9 43.19 L266.05 45.4 L266.2 41.27 L266.35 45.21 L266.5 44.48 L266.65 41.84 L266.8 39.64 L266.95 43.11 L267.1 41.1 L267.25 46.77 L267.4 44.11 L267.55 46.03 L267.7 43.99 L267.85 44.33 L268 41 L268.15 45.46 L268.3 48.91 L268.45 42.22 L268.6 41.22 L268.75 42.51 L268.9 41.36 L269.05 40.53 L269.2 43.13 L269.35 41.62 L269.5 47.17 L269.65 42.35 L269.8 43.31 L269.95 45.3 L270.1 41.26 L270.25 47.15 L270.4 40.65 L270.55 40.36 L270.7 42.03 L270.85 43.1 L271 39.41 L271.15 43.93 L271.3 39.33 L271.45 48.82 L271.6 44.78 L271.75 43.51 L271.9 43.14 L272.05 45.03 L272.2 45.89 L272.35 44.03 L272.5 44.82 L272.65 47.24 L272.8 46.78 L272.95 51.05 L273.1 52.07 L273.25 49.56 L273.4 51.32 L273.55 46.62 L273.7 52.8 L273.85 51.29 L274 53.33 L274.15 57.34 L274.3 45.3 L274.45 53.98 L274.6 49.8 L274.75 55.98 L274.9 49.67 L275.05 52.91 L275.2 55.82 L275.35 57.74 L275.5 56.08 L275.65 53.05 L275.8 54.29 L275.95 60.41 L276.1 56.98 L276.25 50.32 L276.4 60.54 L276.55 58.91 L276.7 60.77 L276.85 56.13 L277 60.72 L277.15 53.56 L277.3 59.88 L277.45 55.98 L277.6 60.45 L277.75 61.77 L277.9 55.48 L278.05 58.12 L278.2 58.58 L278.35 62.83 L278.5 61.25 L278.65 54.63 L278.8 60.66 L278.95 61.81 L279.1 66.66 L279.25 53.95 L279.4 58.02 L279.55 64.43 L279.7 55.77 L279.85 56.53 L280 62.29 L280.15 63.96 L280.3 58.66 L280.45 62.56 L280.6 61.29 L280.75 65.72 L280.9 61.02 L281.05 64.11 L281.2 58.31 L281.35 60.51 L281.5 60.77 L281.65 64.45 L281.8 62.71 L281.95 58.69 L282.1 62.84 L282.25 63 L282.4 60.31 L282.55 59.78 L282.7 59.85 L282.85 55.46 L283 60.71 L283.15 60.72 L283.3 57.55 L283.45 61.93 L283.6 56.03 L283.75 58.24 L283.9 58.44 L284.05 65.07 L284.2 55.46 L284.35 61.28 L284.5 62.34 L284.65 60.94 L284.8 63.14 L284.95 57.62 L285.1 54.48 L285.25 62.53 L285.4 57.6 L285.55 60.05 L285.7 57.98 L285.85 64.07 L286 63.75 L286.15 59.65 L286.3 64.16 L286.45 62.16 L286.6 61.54 L286.75 62.15 L286.9 61.46 L287.05 63.75 L287.2 62.9 L287.35 61.03 L287.5 64.81 L287.65 60.17 L287.8 62.65 L287.95 62.95 L288.1 65.91 L288.25 60.09 L288.4 66.53 L288.55 61.88 L288.7 60.7 L288.85 59.2 L289 62.86 L289.15 61.21 L289.3 57.7 L289.45 57.58 L289.6 59.28 L289.75 58.9 L289.9 64.31 L290.05 65.25 L290.2 63.84 L290.35 62.47 L290.5 60.34 L290.65 61.97 L290.8 64.56 L290.95 68.27 L291.1 65.02 L291.25 61.93 L291.4 63.03 L291.55 61.87 L291.7 61.33 L291.85 63.14 L292 64.35 L292.15 68.7 L292.3 64.43 L292.45 67.84 L292.6 68.99 L292.75 65.15 L292.9 68.93 L293.05 67.04 L293.2 64.69 L293.35 66.43 L293.5 66.11 L293.65 65.79 L293.8 66.08 L293.95 67.01 L294.1 67.79 L294.25 65.37 L294.4 67.31 L294.55 64.62 L294.7 68.19 L294.85 69.03 L295 68.36 L295.15 68.76 L295.3 69.52 L295.45 67.31 L295.6 68.27 L295.75 69.92 L295.9 71.09 L296.05 69.98 L296.2 74.53 L296.35 69.05 L296.5 71.39 L296.65 72 L296.8 69.06 L296.95 67.62 L297.1 66.85 L297.25 69.77 L297.4 71.84 L297.55 70.03 L297.7 69.83 L297.85 68.62 L298 70.69 L298.15 64.69 L298.3 69.96 L298.45 69.49 L298.6 66.32 L298.75 74.34 L298.9 66.23 L299.05 66.91 L299.2 66.6 L299.35 71.92 L299.5 67.28 L299.65 70.9 L299.8 70.71 L299.95 69.95 L300.1 66.27 L300.25 67.94 L300.4 73.4 L300.55 66.37 L300.7 67.5 L300.85 69.14 L301 71.51 L301.15 70.21 L301.3 71.44 L301.45 67.08 L301.6 72.02 L301.75 71.15 L301.9 65.87 L302.05 73.63 L302.2 75.55 L302.35 68.02 L302.5 70.12 L302.65 73.54 L302.8 66.4 L302.95 65.18 L303.1 67 L303.25 68.93 L303.4 69 L303.55 72.13 L303.7 71.4 L303.85 67.66 L304 72.46 L304.15 75.9 L304.3 74.25 L304.45 73.83 L304.6 71.47 L304.75 74.04 L304.9 69.23 L305.05 73.71 L305.2 71.74 L305.35 74.94 L305.5 73.4 L305.65 69.65 L305.8 72.83 L305.95 75.66 L306.1 69.95 L306.25 71.48 L306.4 71.07 L306.55 69.38 L306.7 75.5 L306.85 76.42 L307 75.23 L307.15 73.93 L307.3 73.28 L307.45 74.03 L307.6 71.74 L307.75 75.7 L307.9 76.11 L308.05 75.87 L308.2 72.35 L308.35 73.79 L308.5 73.2 L308.65 77.85 L308.8 73.99 L308.95 69.06 L309.1 74.48 L309.25 77.99 L309.4 75.1 L309.55 75.52 L309.7 73.46 L309.85 68.62 L310 68.94 L310.15 70.2 L310.3 72.76 L310.45 73.7 L310.6 74.49 L310.75 71.94 L310.9 74.9 L311.05 71.86 L311.2 70.74 L311.35 74.31 L311.5 70.04 L311.65 65.97 L311.8 69.52 L311.95 72.17 L312.1 65.73 L312.25 70.98 L312.4 70.99 L312.55 68.32 L312.7 68.13 L312.85 70.55 L313 70.3 L313.15 74.68 L313.3 72.47 L313.45 67.57 L313.6 69.28 L313.75 73.09 L313.9 75.98 L314.05 72.06 L314.2 71.73 L314.35 75.53 L314.5 70.55 L314.65 69.61 L314.8 66.54 L314.95 68.64 L315.1 75.5 L315.25 65.98 L315.4 69.59 L315.55 65.76 L315.7 69.64 L315.85 71.5 L316 68.44 L316.15 70.89 L316.3 70.78 L316.45 70 L316.6 73.27 L316.75 70.79 L316.9 67.95 L317.05 66.98 L317.2 66.57 L317.35 70.06 L317.5 68.02 L317.65 75.72 L317.8 73.83 L317.95 68.56 L318.1 68.36 L318.25 73.74 L318.4 64.54 L318.55 68.39 L318.7 72.17 L318.85 67.44 L319 68.7 L319.15 69.17 L319.3 71.95 L319.45 70.72 L319.6 71.55 L319.75 72.18 L319.9 70.83 L320.05 73.77 L320.2 69.11 L320.35 67.4 L320.5 66.64 L320.65 67.16 L320.8 70.07 L320.95 74.29 L321.1 72.2 L321.25 70.34 L321.4 69.26 L321.55 70.8 L321.7 71.27 L321.85 71 L322 68.91 L322.15 71.52 L322.3 75.52 L322.45 67.43 L322.6 72.54 L322.75 67.82 L322.9 73.85 L323.05 71.54 L323.2 68.12 L323.35 73.8 L323.5 78.28 L323.65 73.83 L323.8 76.58 L323.95 73.32 L324.1 67.77 L324.25 74.72 L324.4 72.25 L324.55 69.39 L324.7 75.33 L324.85 73.93 L325 71.68 L325.15 75.39 L325.3 70.61 L325.45 74.69 L325.6 70.33 L325.75 74.34 L325.9 69.83 L326.05 76.97 L326.2 73.58 L326.35 76.89 L326.5 70.64 L326.65 71.67 L326.8 75.42 L326.95 65.82 L327.1 70.23 L327.25 76.2 L327.4 74.7 L327.55 76.21 L327.7 72.77 L327.85 75.27 L328 71.88 L328.15 70.29 L328.3 69.57 L328.45 72.75 L328.6 72.89 L328.75 72.8 L328.9 67.8 L329.05 69.5 L329.2 73.39 L329.35 75.57 L329.5 73.45 L329.65 72.77 L329.8 69.26 L329.95 80.06 L330.1 72.35 L330.25 79.18 L330.4 78.83 L330.55 75.67 L330.7 73.6 L330.85 75.22 L331 72.11 L331.15 75.39 L331.3 74.73 L331.45 75.89 L331.6 76.79 L331.75 78.51 L331.9 73.56 L332.05 76.77 L332.2 72.54 L332.35 72.28 L332.5 72.88 L332.65 72.06 L332.8 76.44 L332.95 76.31 L333.1 77.1 L333.25 74.27 L333.4 74.98 L333.55 73.18 L333.7 72.01 L333.85 75.54 L334 75.23 L334.15 72.37 L334.3 76.04 L334.45 71.19 L334.6 74.55 L334.75 73.67 L334.9 73.93 L335.05 72.83 L335.2 77.04 L335.35 76.27 L335.5 77.51 L335.65 75.42 L335.8 72.64 L335.95 74.45 L336.1 72.92 L336.25 76.05 L336.4 77.46 L336.55 75.84 L336.7 74.19 L336.85 74.68 L337 75.77 L337.15 72.97 L337.3 75.86 L337.45 76.06 L337.6 74.94 L337.75 75.31 L337.9 76.45 L338.05 75.01 L338.2 75.2 L338.35 77.9 L338.5 77.2 L338.65 79.59 L338.8 75.71 L338.95 74.72 L339.1 78.86 L339.25 79 L339.4 76.71 L339.55 75.82 L339.7 77.89 L339.85 75.69 L340 77.67 L340.15 75.25 L340.3 77.87 L340.45 75.35 L340.6 77.93 L340.75 80.37 L340.9 77.95 L341.05 79.43 L341.2 77.5 L341.35 77.18 L341.5 76.35 L341.65 80.05 L341.8 78.52 L341.95 81.04 L342.1 77 L342.25 78.47 L342.4 78.99 L342.55 81.07 L342.7 81.78 L342.85 78.12 L343 77.45 L343.15 76.59 L343.3 81.46 L343.45 79.34 L343.6 78.56 L343.75 79.62 L343.9 75.74 L344.05 77.14 L344.2 81.55 L344.35 80.76 L344.5 80.44 L344.65 78.57 L344.8 81.35 L344.95 83.5 L345.1 78.29 L345.25 80.52 L345.4 79.71 L345.55 81.15 L345.7 80.49 L345.85 80.14 L346 78.67 L346.15 80.21 L346.3 78.94 L346.45 79.71 L346.6 79.72 L346.75 80.99 L346.9 78.34 L347.05 78.68 L347.2 81.39 L347.35 78.55 L347.5 78.3 L347.65 80.55 L347.8 79.16 L347.95 78.66 L348.1 78.91 L348.25 75.78 L348.4 79.47 L348.55 81.34 L348.7 79.85 L348.85 75.56 L349 79.46 L349.15 77.22 L349.3 78.77 L349.45 79.66 L349.6 77.29 L349.75 82.41 L349.9 79.93 L350.05 81.79 L350.2 81.73 L350.35 83.26 L350.5 83.2 L350.65 78.62 L350.8 81.59 L350.95 78 L351.1 81.2 L351.25 83.43 L351.4 83.95 L351.55 84.76 L351.7 82.17 L351.85 83.49 L352 83.29 L352.15 85.31 L352.3 85.96 L352.45 82.95 L352.6 87.86 L352.75 83.72 L352.9 83.22 L353.05 84.84 L353.2 85.15 L353.35 84.85 L353.5 82.97 L353.65 86.4 L353.8 84.13 L353.95 86.51 L354.1 86.26 L354.25 81.96 L354.4 82.39 L354.55 82.32 L354.7 84.28 L354.85 83.91 L355 84.2 L355.15 82.4 L355.3 84.33 L355.45 85.84 L355.6 81.38 L355.75 83.16 L355.9 83.83 L356.05 83.17 L356.2 82.99 L356.35 86.17 L356.5 85.34 L356.65 84.6 L356.8 81.85 L356.95 87.01 L357.1 83.79 L357.25 82.15 L357.4 82.61 L357.55 82.37 L357.7 87.17 L357.85 83.76 L358 83.57 L358.15 79.49 L358.3 85.01 L358.45 81.67 L358.6 81.59 L358.75 85.05 L358.9 82.24 L359.05 85.68 L359.2 86.35 L359.35 80.54 L359.5 83.96 L359.65 81.05 L359.8 84.23 L359.95 86.34 L360.1 81.64 L360.25 88.32 L360.4 84.03 L360.55 82.35 L360.7 84.6 L360.85 86.53 L361 82.35 L361.15 85.19 L361.3 82.66 L361.45 87.77 L361.6 85.91 L361.75 84.98 L361.9 87.88 L362.05 83.78 L362.2 85.62 L362.35 89.83 L362.5 86.5 L362.65 89.29 L362.8 87.44 L362.95 86.08 L363.1 87.03 L363.25 87.73 L363.4 87.06 L363.55 86.51 L363.7 86.7 L363.85 85.67 L364 88.27 L364.15 88.69 L364.3 89.21 L364.45 85.2 L364.6 89.16 L364.75 87.82 L364.9 85.58 L365.05 87.81 L365.2 88.78 L365.35 88.23 L365.5 88.42 L365.65 88.62 L365.8 88.43 L365.95 86.94 L366.1 83.85 L366.25 85.68 L366.4 87.18 L366.55 85.89 L366.7 87.44 L366.85 87.5 L367 86.33 L367.15 88.81 L367.3 84.72 L367.45 87.28 L367.6 85.25 L367.75 84.75 L367.9 86.55 L368.05 84.83 L368.2 86.77 L368.35 83.96 L368.5 85.53 L368.65 84.28 L368.8 85.04 L368.95 84.8 L369.1 83.73 L369.25 86.06 L369.4 83.45 L369.55 83.75 L369.7 86.18 L369.85 86.22 L370 85.75 L370.15 85.24 L370.3 87.75 L370.45 83.04 L370.6 83.59 L370.75 83.2 L370.9 85.64 L371.05 84.78 L371.2 85.81 L371.35 85.59 L371.5 83.97 L371.65 83.16 L371.8 82.91 L371.95 87.09 L372.1 85.45 L372.25 84.95 L372.4 83.73 L372.55 83.91 L372.7 83.72 L372.85 83.75 L373 81.05 L373.15 84.09 L373.3 83.68 L373.45 84.54 L373.6 84.43 L373.75 85.25 L373.9 84.12 L374.05 85.14 L374.2 80.81 L374.35 82.66 L374.5 86.26 L374.65 82.47 L374.8 83.65 L374.95 84.89 L375.1 82.84 L375.25 84.87 L375.4 82.13 L375.55 81.51 L375.7 82.25 L375.85 81.85 L376 83.92 L376.15 83.55 L376.3 84.38 L376.45 82.69 L376.6 87.2 L376.75 83.91 L376.9 84 L377.05 84.65 L377.2 83.8 L377.35 83.34 L377.5 84.26 L377.65 85.32 L377.8 85.03 L377.95 85.39 L378.1 83.56 L378.25 83.34 L378.4 86.81 L378.55 84.09 L378.7 85.04 L378.85 85.43 L379 86.34 L379.15 83.04 L379.3 84.21 L379.45 84.39 L379.6 84.68 L379.75 82.24 L379.9 85.2 L380.05 82.32 L380.2 85.97 L380.35 86.4 L380.5 86.6 L380.65 84.54 L380.8 87.26 L380.95 85.16 L381.1 84.79 L381.25 85.14 L381.4 85.32 L381.55 86.56 L381.7 87.32 L381.85 83.76 L382 85.58 L382.15 87.22 L382.3 86.28 L382.45 86.53 L382.6 84.01 L382.75 86.81 L382.9 83.68 L383.05 85.65 L383.2 86.92 L383.35 87.43 L383.5 85.69 L383.65 86.05 L383.8 84.22 L383.95 84.32 L384.1 86.26 L384.25 84.86 L384.4 84.73 L384.55 83.24 L384.7 85.14 L384.85 85.78 L385 84.16 L385.15 84.58 L385.3 87.12 L385.45 85.56 L385.6 85.1 L385.75 84.19 L385.9 84.87 L386.05 85.37 L386.2 87.32 L386.35 85.04 L386.5 87.88 L386.65 84.7 L386.8 85.36 L386.95 86.73 L387.1 85.42 L387.25 84.68 L387.4 85.41 L387.55 85.99 L387.7 83.38 L387.85 84.97 L388 85.02 L388.15 84.55 L388.3 85.74 L388.45 84.1 L388.6 84.21 L388.75 84.54 L388.9 85.21 L389.05 84 L389.2 85.87 L389.35 82.98 L389.5 85.39 L389.65 82.83 L389.8 83.53 L389.95 84.05 L390.1 85.91 L390.25 84.51 L390.4 82.97 L390.55 84.87 L390.7 83.11 L390.85 82.42 L391 83.81 L391.15 83.41 L391.3 84.39 L391.45 82.71 L391.6 83.8 L391.75 84.13 L391.9 83.78 L392.05 83.5 L392.2 82.83 L392.35 84.72 L392.5 83.95 L392.65 84.46 L392.8 83.62 L392.95 84.14 L393.1 83.07 L393.25 84.44 L393.4 85.3 L393.55 84.65 L393.7 85.6 L393.85 85.07 L394 86.31 L394.15 84.63 L394.3 83.06 L394.45 85.39 L394.6 84.74 L394.75 83.85 L394.9 85.63 L395.05 85.18 L395.2 85.35 L395.35 84.45 L395.5 84.99 L395.65 85.01 L395.8 86.67 L395.95 83.86 L396.1 84.58 L396.25 84.96 L396.4 82.57 L396.55 82.69 L396.7 86.97 L396.85 82.5 L397 85.18 L397.15 83.59 L397.3 83.73 L397.45 82.37 L397.6 83.67 L397.75 85.68 L397.9 83.23 L398.05 85.6 L398.2 85.33 L398.35 87.37 L398.5 84.51 L398.65 86.59 L398.8 86.18 L398.95 84.81 L399.1 83.2 L399.25 86.95 L399.4 83.53 L399.55 84.57 L399.7 86.16 L399.85 86.42 L400 84.06 L400.15 85.01 L400.3 84.73 L400.45 86.45 L400.6 88.06 L400.75 82.82 L400.9 86.17 L401.05 81.93 L401.2 85.14 L401.35 83.82 L401.5 87.66 L401.65 85.5 L401.8 84.46 L401.95 84.83 L402.1 84.83 L402.25 85.86 L402.4 85.53 L402.55 86.64 L402.7 87.85 L402.85 86.92 L403 84.63 L403.15 84.24 L403.3 85.45 L403.45 87.85 L403.6 86.22 L403.75 85.93 L403.9 87.08 L404.05 85.24 L404.2 85.71 L404.35 87.94 L404.5 87.04 L404.65 86.97 L404.8 88.08 L404.95 87.04 L405.1 87.02 L405.25 87.41 L405.4 88.86 L405.55 88.24 L405.7 86.68 L405.85 87.88 L406 89.14 L406.15 90.72 L406.3 86.83 L406.45 88.71 L406.6 87.88 L406.75 89.22 L406.9 88.64 L407.05 89.86 L407.2 88.51 L407.35 87 L407.5 86.86 L407.65 87.93 L407.8 87.77 L407.95 90.21 L408.1 89.12 L408.25 85.29 L408.4 87.13 L408.55 84.83 L408.7 84.29 L408.85 87.3 L409 86.96 L409.15 84.83 L409.3 88.25 L409.45 84.8 L409.6 84.52 L409.75 86.85 L409.9 86.28 L410.05 85.77 L410.2 85.89 L410.35 86.28 L410.5 85.81 L410.65 85.78 L410.8 83.56 L410.95 84.3 L411.1 86.87 L411.25 85.18 L411.4 86.84 L411.55 87.78 L411.7 85.75 L411.85 86.62 L412 89.01 L412.15 87.26 L412.3 88.82 L412.45 88.48 L412.6 87.52 L412.75 86.45 L412.9 85.55 L413.05 85.25 L413.2 87.39 L413.35 87.4 L413.5 86.59 L413.65 87.94 L413.8 86.04 L413.95 88.26 L414.1 86.82 L414.25 86.68 L414.4 86.65 L414.55 86.43 L414.7 89.73 L414.85 84.24 L415 86.47 L415.15 87.75 L415.3 86.95 L415.45 85.5 L415.6 88.09 L415.75 84.32 L415.9 83.96 L416.05 86.38 L416.2 83.72 L416.35 82.53 L416.5 86.86 L416.65 86.8 L416.8 86.87 L416.95 85.41 L417.1 86.46 L417.25 85.13 L417.4 88.9 L417.55 87.88 L417.7 88.05 L417.85 84.74 L418 88.62 L418.15 89.76 L418.3 89.63 L418.45 89.29 L418.6 88.45 L418.75 88.19 L418.9 89.6 L419.05 89.47 L419.2 89.4 L419.35 88.79 L419.5 91.52 L419.65 87.82 L419.8 89.39 L419.95 88.7 L420.1 90.86 L420.25 91.41 L420.4 91.17 L420.55 90.53 L420.7 87.66 L420.85 92.27 L421 90.18 L421.15 89.33 L421.3 89.48 L421.45 88.97 L421.6 89.95 L421.75 89.76 L421.9 88.82 L422.05 85.83 L422.2 89.14 L422.35 89.75 L422.5 89.74 L422.65 88.75 L422.8 89.47 L422.95 90.15 L423.1 88.06 L423.25 90.54 L423.4 85.88 L423.55 86.71 L423.7 87.09 L423.85 84.95 L424 86.78 L424.15 89.7 L424.3 89.61 L424.45 88 L424.6 90.09 L424.75 88.03 L424.9 86.97 L425.05 87.88 L425.2 87.3 L425.35 88.39 L425.5 85.31 L425.65 88.58 L425.8 86.54 L425.95 88.22 L426.1 84.91 L426.25 86.32 L426.4 86.89 L426.55 87.9 L426.7 84.95 L426.85 88.72 L427 87.02 L427.15 85.55 L427.3 87.79 L427.45 86.18 L427.6 87.49 L427.75 88.95 L427.9 86.75 L428.05 84.91 L428.2 84.95 L428.35 86.22 L428.5 85.73 L428.65 84.15 L428.8 84.31 L428.95 86.05 L429.1 88.27 L429.25 81.56 L429.4 86.02 L429.55 84.75 L429.7 86.09 L429.85 86.22 L430 85.14 L430.15 83.74 L430.3 83.27 L430.45 82.68 L430.6 86.94 L430.75 85.07 L430.9 84.7 L431.05 85.14 L431.2 83.79 L431.35 86.1 L431.5 87.56 L431.65 87.4 L431.8 83.81 L431.95 87.86 L432.1 85.04 L432.25 83.54 L432.4 84.51" fill="none" stroke="#4bb3f8" stroke-width="1.0" stroke-linejoin="bevel"/>
<path d="M223.6 104.47 L224.1 103.33 L224.6 102.21 L225.1 101.63 L225.6 100.47 L226.1 99.94 L226.6 98.96 L227.1 98.11 L227.6 96.59 L228.1 96.11 L228.6 95.57 L229.1 94.38 L229.6 93.89 L230.1 92.93 L230.6 92.1 L231.1 92.02 L231.6 91.48 L232.1 91.14 L232.6 91.35 L233.1 91.82 L233.6 91.41 L234.1 91.28 L234.6 91.5 L235.1 92 L235.6 92.11 L236.1 91.73 L236.6 91.82 L237.1 91.48 L237.6 92.34 L238.1 93 L238.6 93.78 L239.1 93.39 L239.6 93.03 L240.1 93.43 L240.6 93.42 L241.1 93.13 L241.6 92.71 L242.1 92.08 L242.6 91.6 L243.1 91.19 L243.6 90.48 L244.1 89.2 L244.6 89.33 L245.1 88.72 L245.6 88.51 L246.1 88.69 L246.6 88.49 L247.1 88.5 L247.6 88.25 L248.1 88.42 L248.6 88.23 L249.1 88.89 L249.6 89.22 L250.1 89.2 L250.6 89.89 L251.1 90.46 L251.6 90.45 L252.1 91.14 L252.6 91.72 L253.1 92.24 L253.6 92.84 L254.1 93.18 L254.6 93.45 L255.1 93.9 L255.6 94.51 L256.1 94.98 L256.6 95.5 L257.1 95.38 L257.6 95.66 L258.1 95.65 L258.6 95.41 L259.1 96.02 L259.6 95.44 L260.1 95.67 L260.6 95.7 L261.1 95.73 L261.6 95.68 L262.1 95.61 L262.6 94.95 L263.1 95.11 L263.6 94.81 L264.1 94.92 L264.6 95.56 L265.1 95.78 L265.6 95.95 L266.1 95.52 L266.6 96.15 L267.1 95.8 L267.6 95.64 L268.1 96.02 L268.6 95.32 L269.1 95.51 L269.6 95.49 L270.1 95.78 L270.6 96.3 L271.1 95.91 L271.6 96.46 L272.1 96.45 L272.6 96.81 L273.1 97.71 L273.6 97.48 L274.1 98.01 L274.6 98.56 L275.1 98.67 L275.6 98.23 L276.1 98.38 L276.6 97.79 L277.1 97.75 L277.6 97.55 L278.1 97.37 L278.6 97.31 L279.1 97.83 L279.6 97.78 L280.1 97.93 L280.6 97.21 L281.1 97.13 L281.6 96.83 L282.1 96.57 L282.6 95.44 L283.1 95.33 L283.6 94.59 L284.1 93.43 L284.6 93.31 L285.1 92.44 L285.6 92.02 L286.1 91.54 L286.6 92.38 L287.1 92.79 L287.6 92.87 L288.1 93.49 L288.6 94.44 L289.1 94.44 L289.6 95.37 L290.1 96.17 L290.6 96.42 L291.1 97.31 L291.6 97.85 L292.1 98.26 L292.6 99.68 L293.1 100.03 L293.6 101.61 L294.1 101.97 L294.6 101.56 L295.1 101.06 L295.6 101.16 L296.1 100.84 L296.6 99.7 L297.1 99.5 L297.6 98.54 L298.1 98.27 L298.6 97.55 L299.1 97.27 L299.6 96.3 L300.1 96.01 L300.6 95.83 L301.1 94.81 L301.6 94.31 L302.1 94.56 L302.6 93.66 L303.1 94 L303.6 93.93 L304.1 93.21 L304.6 93.69 L305.1 94.23 L305.6 93.8 L306.1 94.67 L306.6 95 L307.1 95.07 L307.6 95.72 L308.1 96.72 L308.6 95.89 L309.1 95.77 L309.6 95.01 L310.1 94.62 L310.6 94.05 L311.1 94.1 L311.6 93.27 L312.1 93.17 L312.6 93.52 L313.1 93.22 L313.6 93.37 L314.1 92.77 L314.6 92.53 L315.1 92.3 L315.6 92.48 L316.1 92.49 L316.6 91.99 L317.1 92.34 L317.6 92.78 L318.1 92.7 L318.6 93.03 L319.1 93.08 L319.6 92.43 L320.1 92.42 L320.6 92.18 L321.1 91.81 L321.6 92.22 L322.1 92.39 L322.6 91.76 L323.1 92.44 L323.6 91.39 L324.1 91.28 L324.6 90.6 L325.1 90.44 L325.6 90.25 L326.1 89.94 L326.6 89.61 L327.1 89.65 L327.6 90.02 L328.1 90.17 L328.6 89.87 L329.1 90.23 L329.6 89.78 L330.1 90.11 L330.6 89.45 L331.1 89.66 L331.6 89.15 L332.1 88.87 L332.6 89.21 L333.1 89.16 L333.6 89.13 L334.1 89.9 L334.6 89.64 L335.1 90.13 L335.6 90 L336.1 90.33 L336.6 89.94 L337.1 89.8 L337.6 89.98 L338.1 90.25 L338.6 89.97 L339.1 90.35 L339.6 89.93 L340.1 89.71 L340.6 89.82 L341.1 89.64 L341.6 89.47 L342.1 88.81 L342.6 88.91 L343.1 88.57 L343.6 87.75 L344.1 87.18 L344.6 87.12 L345.1 86.89 L345.6 86.12 L346.1 86.48 L346.6 85.92 L347.1 85.71 L347.6 85.84 L348.1 85.4 L348.6 86.1 L349.1 86.34 L349.6 85.8 L350.1 86.21 L350.6 86.12 L351.1 86.23 L351.6 86.8 L352.1 86.75 L352.6 86.47 L353.1 86.41 L353.6 87.06 L354.1 87.12 L354.6 87.54 L355.1 87.8 L355.6 88.04 L356.1 87.93 L356.6 88.3 L357.1 88.79 L357.6 88.58 L358.1 88.81 L358.6 88.78 L359.1 89.05 L359.6 88.94 L360.1 88.82 L360.6 87.98 L361.1 86.64 L361.6 86.52 L362.1 85.81 L362.6 84.77 L363.1 84.52 L363.6 83.93 L364.1 83.83 L364.6 84.03 L365.1 83.48 L365.6 83.33 L366.1 83.39 L366.6 83.71 L367.1 83.27 L367.6 83.87 L368.1 83.72 L368.6 84.01 L369.1 84.08 L369.6 83.53 L370.1 83.69 L370.6 83.19 L371.1 83 L371.6 83.61 L372.1 83.81 L372.6 84.44 L373.1 85.3 L373.6 85.92 L374.1 85.56 L374.6 86.2 L375.1 86.65 L375.6 86.23 L376.1 86.23 L376.6 86.32 L377.1 86.15 L377.6 86.3 L378.1 86.65 L378.6 86.03 L379.1 86.51 L379.6 86.28 L380.1 86.11 L380.6 85.64 L381.1 85.63 L381.6 85.45 L382.1 84.43 L382.6 84.04 L383.1 83.81 L383.6 84.04 L384.1 83.49 L384.6 83.35 L385.1 83.88 L385.6 83.56 L386.1 83.6 L386.6 84.27 L387.1 84.29 L387.6 84.4 L388.1 83.99 L388.6 84.02 L389.1 83.83 L389.6 83.17 L390.1 83.63 L390.6 83.83 L391.1 84.34 L391.6 84.94 L392.1 86.13 L392.6 86.48 L393.1 86.73 L393.6 87.66 L394.1 87.08 L394.6 87.31 L395.1 87.79 L395.6 87.92 L396.1 87.92 L396.6 88.86 L397.1 88.96 L397.6 89.27 L398.1 89.13 L398.6 89.16 L399.1 89.22 L399.6 88.7 L400.1 89.18 L400.6 88.77 L401.1 88.61 L401.6 88.78 L402.1 88.75 L402.6 88.78 L403.1 89.27 L403.6 88.74 L404.1 89.09 L404.6 89.22 L405.1 88.58 L405.6 88.9 L406.1 89.29 L406.6 88.83 L407.1 88.69 L407.6 88.13 L408.1 87.79 L408.6 86.98 L409.1 85.84 L409.6 84.67 L410.1 84.63 L410.6 83.58 L411.1 83.78 L411.6 84.34 L412.1 84.54 L412.6 85.01 L413.1 85.9 L413.6 86.3 L414.1 86.83 L414.6 87.86 L415.1 88.14 L415.6 87.76 L416.1 88.15 L416.6 88.24 L417.1 87.96 L417.6 88.7 L418.1 87.96 L418.6 87.85 L419.1 88.47 L419.6 88.14 L420.1 88.7 L420.6 89.1 L421.1 90.66 L421.6 92.36 L422.1 93.61 L422.6 95.43 L423.1 95.88 L423.6 96.79 L424.1 96.95 L424.6 96.94 L425.1 97.41 L425.6 97.62 L426.1 98.23 L426.6 97.66 L427.1 97.68 L427.6 97.49 L428.1 97.38 L428.6 96.73 L429.1 96.71 L429.6 97.19 L430.1 96.65 L430.6 96.85 L431.1 97.41 L431.6 96.94 L432.1 96.99 L432.1 100.17 L431.6 100.38 L431.1 100.54 L430.6 100.8 L430.1 100.98 L429.6 101.08 L429.1 100.97 L428.6 100.45 L428.1 100.69 L427.6 101.57 L427.1 101.69 L426.6 101.88 L426.1 101.7 L425.6 101.74 L425.1 102.4 L424.6 102.16 L424.1 102.44 L423.6 102.62 L423.1 102.62 L422.6 101.71 L422.1 100.51 L421.6 99.14 L421.1 97.39 L420.6 96.09 L420.1 94.76 L419.6 94.72 L419.1 94.01 L418.6 94.17 L418.1 93.2 L417.6 93.16 L417.1 92.8 L416.6 92.31 L416.1 91.24 L415.6 90.78 L415.1 90.64 L414.6 90.53 L414.1 89.6 L413.6 89.2 L413.1 88.85 L412.6 88.9 L412.1 88.34 L411.6 87.46 L411.1 87.72 L410.6 88.06 L410.1 87.92 L409.6 88.59 L409.1 90.14 L408.6 90.43 L408.1 91.25 L407.6 92.35 L407.1 93.48 L406.6 94.11 L406.1 95.11 L405.6 95.77 L405.1 95.9 L404.6 96.35 L404.1 97.29 L403.6 97.15 L403.1 96.97 L402.6 96.95 L402.1 96.77 L401.6 96.56 L401.1 96.15 L400.6 96.52 L400.1 96.29 L399.6 96.4 L399.1 96.4 L398.6 96.96 L398.1 97.28 L397.6 96.7 L397.1 96.66 L396.6 96.25 L396.1 95.08 L395.6 94.21 L395.1 93.51 L394.6 93.33 L394.1 92.98 L393.6 92.7 L393.1 91.47 L392.6 91.36 L392.1 90.5 L391.6 89.42 L391.1 88.72 L390.6 87.98 L390.1 87.65 L389.6 87.41 L389.1 87.29 L388.6 87.55 L388.1 88.3 L387.6 87.99 L387.1 88.04 L386.6 87.82 L386.1 87.57 L385.6 87.8 L385.1 87.5 L384.6 87.33 L384.1 87.44 L383.6 87.18 L383.1 87.52 L382.6 87.59 L382.1 88.12 L381.6 88.68 L381.1 88.8 L380.6 89.53 L380.1 89.19 L379.6 90.23 L379.1 90.56 L378.6 89.94 L378.1 90.31 L377.6 89.77 L377.1 90.33 L376.6 90.15 L376.1 90.21 L375.6 90.29 L375.1 89.83 L374.6 90.34 L374.1 91.19 L373.6 91.55 L373.1 91.56 L372.6 91.5 L372.1 91.25 L371.6 91.87 L371.1 91.47 L370.6 91.26 L370.1 90.84 L369.6 90.23 L369.1 89.58 L368.6 88.6 L368.1 88.26 L367.6 87.47 L367.1 87.63 L366.6 87.8 L366.1 87.34 L365.6 88.08 L365.1 87.89 L364.6 88.21 L364.1 88.47 L363.6 89.22 L363.1 89.18 L362.6 90.09 L362.1 90.69 L361.6 91.25 L361.1 92.59 L360.6 93.36 L360.1 94.16 L359.6 94.89 L359.1 94.67 L358.6 93.75 L358.1 93.78 L357.6 93.43 L357.1 92.54 L356.6 92.79 L356.1 92.21 L355.6 91.76 L355.1 91.66 L354.6 90.68 L354.1 90.86 L353.6 90.56 L353.1 90.09 L352.6 90.27 L352.1 89.91 L351.6 89.88 L351.1 90.12 L350.6 90.2 L350.1 89.95 L349.6 89.41 L349.1 89.32 L348.6 89.74 L348.1 89.64 L347.6 89.32 L347.1 89.42 L346.6 90.02 L346.1 89.72 L345.6 90.02 L345.1 90.58 L344.6 90.88 L344.1 91.15 L343.6 91.56 L343.1 92.28 L342.6 92.88 L342.1 93.42 L341.6 93.32 L341.1 93.45 L340.6 93.78 L340.1 93.82 L339.6 94.39 L339.1 93.84 L338.6 94.23 L338.1 94.17 L337.6 94.56 L337.1 94.25 L336.6 94.21 L336.1 94.61 L335.6 94.34 L335.1 94.47 L334.6 94.41 L334.1 94.07 L333.6 93.12 L333.1 92.9 L332.6 92.62 L332.1 92.56 L331.6 92.84 L331.1 92.57 L330.6 92.8 L330.1 93.05 L329.6 93.3 L329.1 93.61 L328.6 93.62 L328.1 93.92 L327.6 93.9 L327.1 93.21 L326.6 93.61 L326.1 93.81 L325.6 93.69 L325.1 93.75 L324.6 93.57 L324.1 94.43 L323.6 94.65 L323.1 94.95 L322.6 94.31 L322.1 94.79 L321.6 94.49 L321.1 94.78 L320.6 94.98 L320.1 94.85 L319.6 94.75 L319.1 95.32 L318.6 95.03 L318.1 94.88 L317.6 94.79 L317.1 94.82 L316.6 94.88 L316.1 94.84 L315.6 94.78 L315.1 94.95 L314.6 95.41 L314.1 96.31 L313.6 96.74 L313.1 96.78 L312.6 96.97 L312.1 96.75 L311.6 96.88 L311.1 96.75 L310.6 97.15 L310.1 97.49 L309.6 98 L309.1 98.87 L308.6 98.51 L308.1 98.64 L307.6 98.99 L307.1 98.24 L306.6 98.01 L306.1 97.36 L305.6 97.71 L305.1 97.12 L304.6 97.69 L304.1 97.68 L303.6 97.31 L303.1 97.41 L302.6 97.49 L302.1 97.96 L301.6 97.96 L301.1 98.27 L300.6 98.28 L300.1 98.95 L299.6 99.15 L299.1 99.94 L298.6 100.53 L298.1 100.86 L297.6 100.86 L297.1 101.01 L296.6 102.26 L296.1 102.57 L295.6 102.97 L295.1 103.59 L294.6 104.38 L294.1 105.15 L293.6 104.71 L293.1 103.08 L292.6 102.38 L292.1 101.06 L291.6 100.72 L291.1 99.51 L290.6 98.51 L290.1 98.19 L289.6 97.34 L289.1 96.7 L288.6 95.76 L288.1 95.15 L287.6 94.99 L287.1 94.07 L286.6 93.63 L286.1 93 L285.6 93.41 L285.1 93.79 L284.6 94.51 L284.1 95.12 L283.6 95.59 L283.1 96.33 L282.6 96.78 L282.1 97.87 L281.6 98.24 L281.1 98.45 L280.6 98.87 L280.1 98.93 L279.6 99.05 L279.1 98.83 L278.6 98.54 L278.1 98.69 L277.6 98.55 L277.1 98.97 L276.6 99.42 L276.1 99.38 L275.6 100.16 L275.1 100.19 L274.6 99.97 L274.1 99.56 L273.6 99.17 L273.1 99.02 L272.6 97.86 L272.1 97.45 L271.6 97.63 L271.1 97.3 L270.6 97.38 L270.1 97.03 L269.6 96.67 L269.1 96.51 L268.6 96.47 L268.1 97.02 L267.6 96.64 L267.1 96.93 L266.6 97.15 L266.1 97.11 L265.6 97.02 L265.1 96.78 L264.6 96.81 L264.1 96.32 L263.6 96.38 L263.1 96.33 L262.6 96.91 L262.1 96.61 L261.6 96.85 L261.1 97.5 L260.6 97.68 L260.1 98.07 L259.6 97.9 L259.1 97.79 L258.6 97.32 L258.1 97.42 L257.6 97.11 L257.1 96.66 L256.6 96.5 L256.1 95.98 L255.6 95.51 L255.1 94.9 L254.6 94.58 L254.1 94.18 L253.6 93.84 L253.1 93.24 L252.6 92.72 L252.1 92.14 L251.6 91.45 L251.1 91.46 L250.6 90.99 L250.1 90.3 L249.6 90.22 L249.1 90.52 L248.6 90.02 L248.1 90.2 L247.6 89.75 L247.1 89.95 L246.6 89.66 L246.1 89.69 L245.6 89.58 L245.1 89.72 L244.6 90.35 L244.1 90.36 L243.6 91.48 L243.1 92.46 L242.6 92.89 L242.1 93.81 L241.6 94.11 L241.1 94.45 L240.6 94.65 L240.1 95.21 L239.6 95.32 L239.1 95.24 L238.6 95.57 L238.1 94.46 L237.6 93.34 L237.1 92.7 L236.6 92.82 L236.1 92.79 L235.6 93.19 L235.1 93 L234.6 92.58 L234.1 92.66 L233.6 92.41 L233.1 92.82 L232.6 92.61 L232.1 93.15 L231.6 93.46 L231.1 93.71 L230.6 94.31 L230.1 95.35 L229.6 96.11 L229.1 97.72 L228.6 98.12 L228.1 98.99 L227.6 99.85 L227.1 100.82 L226.6 101.52 L226.1 102.28 L225.6 103.41 L225.1 104.88 L224.6 106 L224.1 107.6 L223.6 108.21Z" fill="#4a4a4a"/>
<path d="M223.6 106.95 L223.75 105.21 L223.9 105.11 L224.05 100.84 L224.2 108.72 L224.35 107.1 L224.5 103.96 L224.65 105.69 L224.8 104.42 L224.95 102.55 L225.1 105 L225.25 102.33 L225.4 101.98 L225.55 100.84 L225.7 102.7 L225.85 101.42 L226 102.2 L226.15 99.98 L226.3 100.96 L226.45 98.97 L226.6 101.66 L226.75 100.3 L226.9 100.29 L227.05 100.17 L227.2 97.5 L227.35 100.28 L227.5 102.18 L227.65 95.62 L227.8 95.18 L227.95 95.26 L228.1 99.02 L228.25 97.63 L228.4 98.97 L228.55 98.15 L228.7 97.08 L228.85 96.94 L229 95.97 L229.15 97.29 L229.3 93.97 L229.45 94.77 L229.6 95.47 L229.75 97.43 L229.9 93.45 L230.05 92.74 L230.2 93.2 L230.35 95.04 L230.5 93.15 L230.65 94.98 L230.8 90.59 L230.95 94.25 L231.1 93.97 L231.25 90.79 L231.4 92.65 L231.55 93.85 L231.7 92.42 L231.85 93.44 L232 94.98 L232.15 92.5 L232.3 91.84 L232.45 91.27 L232.6 92.84 L232.75 91.89 L232.9 91.9 L233.05 91.97 L233.2 92.75 L233.35 90.95 L233.5 90.47 L233.65 89.56 L233.8 93.15 L233.95 92 L234.1 93.45 L234.25 92.09 L234.4 91.47 L234.55 92.76 L234.7 92.29 L234.85 91.18 L235 91.59 L235.15 94.24 L235.3 92.86 L235.45 92.91 L235.6 92.2 L235.75 91.75 L235.9 93.3 L236.05 92.24 L236.2 91.51 L236.35 92.07 L236.5 91.21 L236.65 92.25 L236.8 93.15 L236.95 91.06 L237.1 93.53 L237.25 91.52 L237.4 92.64 L237.55 91.77 L237.7 92.71 L237.85 93.3 L238 93.02 L238.15 93.01 L238.3 93.36 L238.45 93.52 L238.6 92.62 L238.75 94.18 L238.9 94.95 L239.05 95.53 L239.2 95.15 L239.35 97.41 L239.5 94.66 L239.65 93.66 L239.8 96.58 L239.95 92.86 L240.1 95.39 L240.25 92.92 L240.4 94.55 L240.55 91.56 L240.7 95.14 L240.85 93.74 L241 92.64 L241.15 95.93 L241.3 94.72 L241.45 93.75 L241.6 92.69 L241.75 93.45 L241.9 93.18 L242.05 94.09 L242.2 94.01 L242.35 92.12 L242.5 92.08 L242.65 91.89 L242.8 90.76 L242.95 91.39 L243.1 91.7 L243.25 92.31 L243.4 92.72 L243.55 90.17 L243.7 91.36 L243.85 90.05 L244 92.41 L244.15 90.01 L244.3 90.39 L244.45 88.73 L244.6 88.69 L244.75 89.58 L244.9 88.85 L245.05 89.5 L245.2 87.42 L245.35 89.65 L245.5 87.97 L245.65 90.65 L245.8 88.55 L245.95 89.97 L246.1 87.41 L246.25 89.31 L246.4 87.98 L246.55 88.43 L246.7 89 L246.85 88.68 L247 89.32 L247.15 89.89 L247.3 89.86 L247.45 89.08 L247.6 87.63 L247.75 88.26 L247.9 88.95 L248.05 86.53 L248.2 90.07 L248.35 88.74 L248.5 88.64 L248.65 90.35 L248.8 90.1 L248.95 89.62 L249.1 88.16 L249.25 89.91 L249.4 90.02 L249.55 88.59 L249.7 91 L249.85 90.42 L250 87.58 L250.15 90.12 L250.3 88.62 L250.45 91.44 L250.6 91.17 L250.75 89.19 L250.9 89.58 L251.05 90.76 L251.2 90.49 L251.35 92.42 L251.5 91.71 L251.65 90.8 L251.8 91.79 L251.95 89.36 L252.1 91.8 L252.25 92.48 L252.4 91.65 L252.55 91.32 L252.7 92.66 L252.85 94.07 L253 92.65 L253.15 91.65 L253.3 94.04 L253.45 91.36 L253.6 93.54 L253.75 92.8 L253.9 94.19 L254.05 92.9 L254.2 94.77 L254.35 94.04 L254.5 92.45 L254.65 92.33 L254.8 93.86 L254.95 95.38 L255.1 94.49 L255.25 94.57 L255.4 94.43 L255.55 95.46 L255.7 95.27 L255.85 95.32 L256 94.26 L256.15 96.49 L256.3 96.81 L256.45 94.32 L256.6 98.05 L256.75 96.6 L256.9 95.49 L257.05 94.11 L257.2 96.85 L257.35 96.82 L257.5 95.62 L257.65 94.33 L257.8 97.64 L257.95 95.73 L258.1 95.89 L258.25 99.55 L258.4 99.05 L258.55 97.68 L258.7 95.97 L258.85 97.37 L259 93.65 L259.15 96.71 L259.3 95.59 L259.45 94.88 L259.6 94.46 L259.75 97.33 L259.9 96.73 L260.05 96.83 L260.2 97.76 L260.35 95.43 L260.5 94.91 L260.65 94.18 L260.8 96.09 L260.95 97.5 L261.1 96.27 L261.25 97.25 L261.4 94.87 L261.55 95.72 L261.7 95.3 L261.85 94.65 L262 98.38 L262.15 97.07 L262.3 95.07 L262.45 95 L262.6 95.77 L262.75 94.11 L262.9 96.2 L263.05 94.21 L263.2 95.21 L263.35 94.47 L263.5 95.05 L263.65 94.14 L263.8 93.91 L263.95 94.58 L264.1 94.93 L264.25 95.39 L264.4 95.84 L264.55 97.43 L264.7 96.77 L264.85 95.75 L265 96.83 L265.15 95.44 L265.3 97.71 L265.45 96.84 L265.6 94.91 L265.75 97.13 L265.9 97.2 L266.05 93.68 L266.2 95.59 L266.35 95.87 L266.5 94.35 L266.65 95.21 L266.8 95.31 L266.95 96.79 L267.1 96.55 L267.25 98.91 L267.4 95.81 L267.55 97.4 L267.7 96.3 L267.85 96.52 L268 95.06 L268.15 94.25 L268.3 95.41 L268.45 96.97 L268.6 97.82 L268.75 96.8 L268.9 96.71 L269.05 95.35 L269.2 97.82 L269.35 97.66 L269.5 95.75 L269.65 96.29 L269.8 95.35 L269.95 97.94 L270.1 96.89 L270.25 96.42 L270.4 96.98 L270.55 97.06 L270.7 96.22 L270.85 95.4 L271 95.39 L271.15 94.95 L271.3 97.25 L271.45 99.08 L271.6 95.05 L271.75 96.95 L271.9 97.23 L272.05 95.85 L272.2 97.28 L272.35 96.1 L272.5 98.73 L272.65 96.98 L272.8 97.9 L272.95 98.71 L273.1 97.63 L273.25 96.24 L273.4 97.8 L273.55 99.42 L273.7 98.58 L273.85 99.07 L274 97.65 L274.15 99.23 L274.3 100.06 L274.45 99.34 L274.6 101.77 L274.75 99.27 L274.9 98.34 L275.05 97.64 L275.2 100.98 L275.35 99.32 L275.5 100.49 L275.65 99.67 L275.8 100.94 L275.95 100.38 L276.1 98.31 L276.25 98.97 L276.4 99.82 L276.55 97.07 L276.7 100.06 L276.85 99.72 L277 99.4 L277.15 98.04 L277.3 98.56 L277.45 97 L277.6 98.25 L277.75 97.55 L277.9 98.25 L278.05 97.65 L278.2 98.45 L278.35 99.38 L278.5 96.82 L278.65 99.13 L278.8 96.12 L278.95 95.95 L279.1 98.06 L279.25 98.18 L279.4 98.63 L279.55 96.46 L279.7 98.08 L279.85 98.26 L280 99.4 L280.15 97.97 L280.3 98.59 L280.45 97 L280.6 97.77 L280.75 97.45 L280.9 98.58 L281.05 96.76 L281.2 96.85 L281.35 98.23 L281.5 99.39 L281.65 97.84 L281.8 97.66 L281.95 96.88 L282.1 98.19 L282.25 97.41 L282.4 98.43 L282.55 96.77 L282.7 95.23 L282.85 95.41 L283 94.76 L283.15 94.28 L283.3 96.67 L283.45 95.99 L283.6 93.67 L283.75 96.59 L283.9 94.81 L284.05 93.38 L284.2 94.58 L284.35 93.92 L284.5 93.01 L284.65 91.63 L284.8 93.49 L284.95 93.58 L285.1 90.44 L285.25 93.59 L285.4 93.54 L285.55 92.24 L285.7 92.75 L285.85 92.19 L286 91.44 L286.15 92.12 L286.3 94.22 L286.45 91.15 L286.6 93.25 L286.75 93.34 L286.9 92.46 L287.05 92.93 L287.2 91.95 L287.35 92.76 L287.5 93.97 L287.65 94.51 L287.8 93.2 L287.95 97.62 L288.1 93.91 L288.25 94.93 L288.4 94.64 L288.55 94.58 L288.7 96.85 L288.85 94.76 L289 97.18 L289.15 97.18 L289.3 94.59 L289.45 97.5 L289.6 95.51 L289.75 100.02 L289.9 96.27 L290.05 95.73 L290.2 94.61 L290.35 95.64 L290.5 96.82 L290.65 96.44 L290.8 96.32 L290.95 97.27 L291.1 98.16 L291.25 100.75 L291.4 96.38 L291.55 98.24 L291.7 97.84 L291.85 97.18 L292 97.72 L292.15 98.54 L292.3 101.31 L292.45 100.2 L292.6 99.95 L292.75 102.07 L292.9 101.85 L293.05 101.34 L293.2 102.65 L293.35 100.96 L293.5 103.71 L293.65 103.78 L293.8 102.63 L293.95 101.58 L294.1 106.3 L294.25 103.67 L294.4 107.69 L294.55 102.11 L294.7 104.41 L294.85 102.18 L295 103.12 L295.15 103.87 L295.3 101.19 L295.45 102.11 L295.6 102.35 L295.75 102.11 L295.9 102.64 L296.05 103.06 L296.2 102.6 L296.35 101.61 L296.5 100.6 L296.65 99.38 L296.8 99.72 L296.95 99.79 L297.1 101.19 L297.25 99.73 L297.4 98.45 L297.55 100.79 L297.7 98.74 L297.85 98.64 L298 99.24 L298.15 100.08 L298.3 95.83 L298.45 97.5 L298.6 99.23 L298.75 98.28 L298.9 97.37 L299.05 97.68 L299.2 100.47 L299.35 97.48 L299.5 99.14 L299.65 99.11 L299.8 96.96 L299.95 98.24 L300.1 96.64 L300.25 96.25 L300.4 95.26 L300.55 98.49 L300.7 96.23 L300.85 95.84 L301 94.73 L301.15 99.69 L301.3 97.75 L301.45 96.12 L301.6 95.03 L301.75 93.45 L301.9 96.61 L302.05 96.53 L302.2 93.39 L302.35 98.01 L302.5 97.25 L302.65 93.99 L302.8 94.69 L302.95 94.88 L303.1 95.95 L303.25 95.33 L303.4 92.43 L303.55 98.37 L303.7 96.11 L303.85 97.92 L304 97.88 L304.15 95.04 L304.3 96.13 L304.45 96.91 L304.6 96.98 L304.75 95.24 L304.9 94.42 L305.05 95.67 L305.2 94.17 L305.35 94.66 L305.5 92.07 L305.65 95.91 L305.8 94.02 L305.95 94.93 L306.1 95.9 L306.25 96.62 L306.4 99.38 L306.55 96.65 L306.7 94.11 L306.85 96.8 L307 95.76 L307.15 97.51 L307.3 95.94 L307.45 96.06 L307.6 96.52 L307.75 96.48 L307.9 94.8 L308.05 96.63 L308.2 97.61 L308.35 99.44 L308.5 97.13 L308.65 96.94 L308.8 98.34 L308.95 98.19 L309.1 99.74 L309.25 98.03 L309.4 96.94 L309.55 98.95 L309.7 99.11 L309.85 95.74 L310 96.6 L310.15 93.46 L310.3 95.44 L310.45 94.44 L310.6 95.4 L310.75 94.83 L310.9 95.24 L311.05 95.24 L311.2 96.16 L311.35 95.65 L311.5 94.24 L311.65 92.94 L311.8 97.24 L311.95 97.54 L312.1 94.29 L312.25 96.03 L312.4 92.43 L312.55 92.38 L312.7 94.59 L312.85 97.55 L313 93.25 L313.15 93.59 L313.3 97.69 L313.45 91.74 L313.6 95.96 L313.75 95.63 L313.9 94.39 L314.05 94.97 L314.2 98.87 L314.35 92.58 L314.5 93.82 L314.65 93.82 L314.8 92.95 L314.95 91.75 L315.1 96.47 L315.25 94.18 L315.4 90.93 L315.55 92.61 L315.7 94.35 L315.85 94.32 L316 91.33 L316.15 93.47 L316.3 94.02 L316.45 94.22 L316.6 94.23 L316.75 90.74 L316.9 96.54 L317.05 94 L317.2 96.52 L317.35 97.78 L317.5 93.54 L317.65 91.93 L317.8 95.21 L317.95 93.65 L318.1 93.27 L318.25 92.43 L318.4 96.6 L318.55 93.39 L318.7 91.97 L318.85 93.42 L319 92.36 L319.15 94.27 L319.3 93.34 L319.45 92.31 L319.6 94.72 L319.75 92.78 L319.9 94.76 L320.05 95.49 L320.2 92.99 L320.35 92.51 L320.5 93.72 L320.65 94.72 L320.8 93.34 L320.95 93.53 L321.1 93.26 L321.25 93.76 L321.4 94.23 L321.55 92.23 L321.7 92.58 L321.85 93.38 L322 92.33 L322.15 93.55 L322.3 94.16 L322.45 93.34 L322.6 92.47 L322.75 92.22 L322.9 96.01 L323.05 94.68 L323.2 91.59 L323.35 91.93 L323.5 96.06 L323.65 95.44 L323.8 93.18 L323.95 94.74 L324.1 90.38 L324.25 92.69 L324.4 93.81 L324.55 89.38 L324.7 91.06 L324.85 93.61 L325 94.13 L325.15 91.07 L325.3 92.52 L325.45 94.76 L325.6 91.19 L325.75 89.41 L325.9 91.64 L326.05 90.98 L326.2 94.06 L326.35 91.92 L326.5 90.08 L326.65 96.11 L326.8 90.57 L326.95 92.41 L327.1 92.83 L327.25 93.09 L327.4 91.97 L327.55 92.81 L327.7 91.61 L327.85 89.11 L328 91.41 L328.15 91.49 L328.3 91.55 L328.45 92.15 L328.6 90.76 L328.75 94.34 L328.9 94.77 L329.05 87.91 L329.2 91.9 L329.35 90.58 L329.5 87.18 L329.65 92.52 L329.8 90.64 L329.95 91.02 L330.1 90.48 L330.25 93.45 L330.4 93.64 L330.55 91.9 L330.7 92.54 L330.85 91.09 L331 91.46 L331.15 89.88 L331.3 91.16 L331.45 89.81 L331.6 91.68 L331.75 92.47 L331.9 91.54 L332.05 93.13 L332.2 95.76 L332.35 87.08 L332.5 91.05 L332.65 89.99 L332.8 90.24 L332.95 88.55 L333.1 91.34 L333.25 90.8 L333.4 90.13 L333.55 90.95 L333.7 90.35 L333.85 86.86 L334 93.92 L334.15 91.17 L334.3 89.9 L334.45 92.6 L334.6 90.63 L334.75 87.47 L334.9 94.1 L335.05 88.61 L335.2 91.79 L335.35 92.53 L335.5 95.19 L335.65 94.84 L335.8 92.65 L335.95 90.67 L336.1 91.41 L336.25 94.6 L336.4 96.07 L336.55 93.42 L336.7 90.91 L336.85 94.43 L337 91.46 L337.15 91.39 L337.3 91.65 L337.45 93.46 L337.6 92.8 L337.75 94.28 L337.9 94.9 L338.05 93.27 L338.2 87.4 L338.35 88.71 L338.5 92.52 L338.65 92.05 L338.8 96.57 L338.95 92.09 L339.1 91.83 L339.25 94.03 L339.4 94.25 L339.55 91.6 L339.7 93 L339.85 89.75 L340 90.11 L340.15 94.4 L340.3 89.06 L340.45 93.66 L340.6 93.11 L340.75 93.23 L340.9 93.46 L341.05 92.71 L341.2 87.27 L341.35 89.48 L341.5 90.23 L341.65 93.18 L341.8 89.06 L341.95 89.84 L342.1 90.44 L342.25 93.69 L342.4 88.14 L342.55 88.21 L342.7 92.03 L342.85 86.47 L343 91.2 L343.15 89.52 L343.3 87.17 L343.45 89.3 L343.6 88.01 L343.75 90.16 L343.9 90.4 L344.05 92.46 L344.2 89.38 L344.35 89.48 L344.5 88.03 L344.65 89 L344.8 90.99 L344.95 85.05 L345.1 90.01 L345.25 87.58 L345.4 88.68 L345.55 89.08 L345.7 90.03 L345.85 88.76 L346 87.45 L346.15 88.76 L346.3 88.11 L346.45 87.63 L346.6 88.37 L346.75 89.62 L346.9 88.14 L347.05 88.12 L347.2 85.28 L347.35 87.49 L347.5 84.1 L347.65 89.06 L347.8 85.82 L347.95 90.12 L348.1 92.63 L348.25 86.87 L348.4 90.2 L348.55 88.46 L348.7 86.67 L348.85 86.17 L349 88.84 L349.15 90.43 L349.3 88.53 L349.45 85.11 L349.6 86.03 L349.75 87.57 L349.9 90.49 L350.05 88.56 L350.2 88.67 L350.35 90.28 L350.5 87.76 L350.65 87.98 L350.8 87.83 L350.95 85.03 L351.1 88.98 L351.25 88.88 L351.4 89.85 L351.55 86.1 L351.7 86.75 L351.85 89.74 L352 88.68 L352.15 90.52 L352.3 86.73 L352.45 88.61 L352.6 87.13 L352.75 88.89 L352.9 87.55 L353.05 89.4 L353.2 90.43 L353.35 89.77 L353.5 85.37 L353.65 90.4 L353.8 89.58 L353.95 86.93 L354.1 87.28 L354.25 89 L354.4 90.13 L354.55 88.3 L354.7 86.18 L354.85 89.84 L355 89.71 L355.15 94.13 L355.3 87.07 L355.45 94.49 L355.6 93.08 L355.75 90.35 L355.9 93.08 L356.05 90.1 L356.2 91.98 L356.35 88.66 L356.5 90.42 L356.65 88.26 L356.8 87.16 L356.95 90 L357.1 89.26 L357.25 92.02 L357.4 93.67 L357.55 90.59 L357.7 91.19 L357.85 91.57 L358 87.37 L358.15 91.93 L358.3 91.41 L358.45 91.34 L358.6 88.86 L358.75 86.75 L358.9 90.99 L359.05 92.42 L359.2 95.02 L359.35 94.55 L359.5 95.43 L359.65 92.68 L359.8 94.75 L359.95 91.21 L360.1 93.21 L360.25 93.7 L360.4 97.72 L360.55 91.33 L360.7 87.17 L360.85 93.65 L361 87.88 L361.15 89.47 L361.3 88.64 L361.45 86.89 L361.6 92.19 L361.75 90.15 L361.9 87 L362.05 88.45 L362.2 87.05 L362.35 89.37 L362.5 86.83 L362.65 85.76 L362.8 85.89 L362.95 86.21 L363.1 87.72 L363.25 84.78 L363.4 86.5 L363.55 87.53 L363.7 91.56 L363.85 88.05 L364 80.24 L364.15 84.83 L364.3 85.07 L364.45 86.62 L364.6 89.31 L364.75 87.47 L364.9 80.85 L365.05 86.46 L365.2 85.99 L365.35 86.6 L365.5 88.59 L365.65 83.32 L365.8 87.96 L365.95 82.09 L366.1 85.68 L366.25 86.36 L366.4 90.35 L366.55 84.08 L366.7 82.03 L366.85 87.01 L367 84.23 L367.15 88.87 L367.3 84.22 L367.45 83.92 L367.6 88.32 L367.75 86 L367.9 87.92 L368.05 83.01 L368.2 89.61 L368.35 84.89 L368.5 88.2 L368.65 84.03 L368.8 82.71 L368.95 85.97 L369.1 87.17 L369.25 91.06 L369.4 87.85 L369.55 88.99 L369.7 88.94 L369.85 94.91 L370 84.57 L370.15 91.13 L370.3 86.68 L370.45 88.07 L370.6 85.35 L370.75 91.32 L370.9 82.78 L371.05 82.54 L371.2 86.65 L371.35 83.42 L371.5 89.94 L371.65 90.72 L371.8 85.22 L371.95 90.32 L372.1 85.77 L372.25 87.82 L372.4 88.06 L372.55 93.72 L372.7 88.19 L372.85 85.64 L373 85.74 L373.15 91.64 L373.3 83.92 L373.45 87.18 L373.6 87.45 L373.75 82.33 L373.9 87.28 L374.05 90.78 L374.2 88.92 L374.35 86.36 L374.5 89.85 L374.65 89.43 L374.8 92.47 L374.95 86.84 L375.1 87.49 L375.25 88.25 L375.4 87.83 L375.55 88.22 L375.7 87.79 L375.85 86.61 L376 84.8 L376.15 86.85 L376.3 85.22 L376.45 85.9 L376.6 86.92 L376.75 89.01 L376.9 89.72 L377.05 86.03 L377.2 88.71 L377.35 89.71 L377.5 88.08 L377.65 84.96 L377.8 83.97 L377.95 89.79 L378.1 90.05 L378.25 88.81 L378.4 86.2 L378.55 91.14 L378.7 90.68 L378.85 88.21 L379 87.88 L379.15 84.38 L379.3 89.58 L379.45 84.89 L379.6 89.24 L379.75 89.24 L379.9 87.93 L380.05 90.68 L380.2 86.97 L380.35 88.62 L380.5 88.92 L380.65 87.81 L380.8 86.49 L380.95 89.46 L381.1 87.87 L381.25 86.65 L381.4 86.61 L381.55 87.05 L381.7 90.84 L381.85 86.8 L382 86.07 L382.15 84.48 L382.3 84.1 L382.45 82.8 L382.6 86.43 L382.75 85.95 L382.9 83.99 L383.05 83.1 L383.2 85.05 L383.35 84.65 L383.5 83.16 L383.65 86.03 L383.8 85.72 L383.95 85.35 L384.1 86.84 L384.25 84.24 L384.4 87.95 L384.55 83.57 L384.7 86.44 L384.85 86.7 L385 85.04 L385.15 86.23 L385.3 83.14 L385.45 82.73 L385.6 85.25 L385.75 84.23 L385.9 86.81 L386.05 85.74 L386.2 87 L386.35 86.51 L386.5 86.37 L386.65 86.21 L386.8 85.35 L386.95 85.2 L387.1 90.11 L387.25 82.7 L387.4 85.77 L387.55 88.08 L387.7 86.91 L387.85 88.8 L388 87.08 L388.15 83.49 L388.3 85.25 L388.45 83.1 L388.6 87.69 L388.75 88.51 L388.9 84.79 L389.05 86.63 L389.2 84.72 L389.35 82.68 L389.5 84.55 L389.65 82.32 L389.8 84.25 L389.95 85.75 L390.1 86.8 L390.25 88.02 L390.4 84.93 L390.55 86.18 L390.7 86.71 L390.85 87.15 L391 80.96 L391.15 84.79 L391.3 88.27 L391.45 84.48 L391.6 87.6 L391.75 89.09 L391.9 83.47 L392.05 87.39 L392.2 88.57 L392.35 88.32 L392.5 85.12 L392.65 89.52 L392.8 87.67 L392.95 91 L393.1 90.27 L393.25 88.16 L393.4 89.96 L393.55 88.04 L393.7 88.09 L393.85 86.06 L394 89.32 L394.15 91.93 L394.3 90.31 L394.45 90.03 L394.6 88.52 L394.75 88.84 L394.9 92.29 L395.05 86.33 L395.2 96.19 L395.35 90.44 L395.5 96.94 L395.65 94.3 L395.8 89.83 L395.95 93.43 L396.1 92.2 L396.25 93.04 L396.4 94.31 L396.55 90.31 L396.7 90.27 L396.85 91.11 L397 88.18 L397.15 91.84 L397.3 93.47 L397.45 93.55 L397.6 93.36 L397.75 91.44 L397.9 95.28 L398.05 86.04 L398.2 91.39 L398.35 91.59 L398.5 95.52 L398.65 94.73 L398.8 95.13 L398.95 92.57 L399.1 95.51 L399.25 89.24 L399.4 92.63 L399.55 85.66 L399.7 97.74 L399.85 97.31 L400 90.37 L400.15 89.56 L400.3 85.62 L400.45 87.39 L400.6 92.54 L400.75 91.66 L400.9 87.56 L401.05 90.59 L401.2 90.1 L401.35 93.68 L401.5 94.49 L401.65 91.6 L401.8 92.7 L401.95 92.35 L402.1 85.7 L402.25 93.02 L402.4 92.26 L402.55 94.94 L402.7 86.52 L402.85 95.06 L403 90.46 L403.15 93.46 L403.3 96.62 L403.45 87.66 L403.6 88.2 L403.75 95.97 L403.9 88.76 L404.05 89.36 L404.2 94.51 L404.35 91.74 L404.5 94.83 L404.65 93.19 L404.8 92.09 L404.95 95.12 L405.1 98.62 L405.25 91.69 L405.4 96.22 L405.55 95.09 L405.7 92.12 L405.85 93 L406 89.17 L406.15 89.98 L406.3 92.23 L406.45 91.3 L406.6 94.52 L406.75 88.04 L406.9 90.34 L407.05 89.4 L407.2 90.35 L407.35 93.05 L407.5 87.69 L407.65 91.82 L407.8 88.59 L407.95 88.89 L408.1 91.25 L408.25 88.5 L408.4 90.12 L408.55 88.78 L408.7 87.96 L408.85 87.33 L409 84.37 L409.15 86.05 L409.3 87.58 L409.45 87.4 L409.6 83.83 L409.75 88.5 L409.9 87.44 L410.05 83.54 L410.2 83.87 L410.35 86.75 L410.5 82.14 L410.65 84.02 L410.8 85.27 L410.95 85.04 L411.1 85.21 L411.25 86.15 L411.4 83.97 L411.55 84.7 L411.7 89.64 L411.85 83.3 L412 85.24 L412.15 86.45 L412.3 85.25 L412.45 88.8 L412.6 86.92 L412.75 88.3 L412.9 82.8 L413.05 89.37 L413.2 89.45 L413.35 86.36 L413.5 89.98 L413.65 88.37 L413.8 89.59 L413.95 91.14 L414.1 88.48 L414.25 86.83 L414.4 88.53 L414.55 86.67 L414.7 87.52 L414.85 87.69 L415 87.88 L415.15 90.86 L415.3 90.49 L415.45 87.8 L415.6 91.27 L415.75 86.58 L415.9 88.42 L416.05 89.43 L416.2 92.01 L416.35 91.28 L416.5 90.89 L416.65 92.7 L416.8 91.65 L416.95 93.13 L417.1 88.68 L417.25 86.76 L417.4 89.57 L417.55 92.44 L417.7 91.21 L417.85 92.74 L418 92.38 L418.15 91.99 L418.3 92.8 L418.45 89.03 L418.6 93.63 L418.75 88.29 L418.9 90.61 L419.05 87.19 L419.2 92.31 L419.35 86.77 L419.5 94.89 L419.65 87.32 L419.8 91.85 L419.95 90.78 L420.1 88.9 L420.25 95.33 L420.4 90.87 L420.55 96.65 L420.7 89.89 L420.85 90.92 L421 87.9 L421.15 95.61 L421.3 97.07 L421.45 95.52 L421.6 94.84 L421.75 93.11 L421.9 102.87 L422.05 98.72 L422.2 91.78 L422.35 96.57 L422.5 90.66 L422.65 102.76 L422.8 104.29 L422.95 103.21 L423.1 99.09 L423.25 97.67 L423.4 95.54 L423.55 100.84 L423.7 97.49 L423.85 98.52 L424 97.91 L424.15 98.79 L424.3 101.81 L424.45 103.71 L424.6 100.01 L424.75 99.73 L424.9 97.16 L425.05 96.98 L425.2 97.42 L425.35 101.7 L425.5 100.34 L425.65 101.84 L425.8 100.71 L425.95 99.07 L426.1 97.38 L426.25 99.05 L426.4 96.9 L426.55 103.61 L426.7 100.12 L426.85 98.79 L427 103.38 L427.15 98.6 L427.3 100.38 L427.45 98.88 L427.6 99.83 L427.75 98.32 L427.9 99.96 L428.05 101.74 L428.2 96.36 L428.35 94.4 L428.5 101.43 L428.65 99.05 L428.8 100.42 L428.95 98.1 L429.1 101.73 L429.25 102.28 L429.4 96.36 L429.55 100.04 L429.7 97.52 L429.85 95.58 L430 98.22 L430.15 99.93 L430.3 96.11 L430.45 96.28 L430.6 101.18 L430.75 98.85 L430.9 99.56 L431.05 96.62 L431.2 97.55 L431.35 99.01 L431.5 99.12 L431.65 99.01 L431.8 101.64 L431.95 98.98 L432.1 95.84 L432.25 96.98 L432.4 98.38" fill="none" stroke="#4a4a4a" stroke-width="1.0" stroke-linejoin="bevel"/>
</g>
<path d="M224.2 187.96 L225.2 189.59 L226.2 191.16 L227.2 192.68 L228.2 194.15 L229.2 195.57 L230.2 196.94 L231.2 198.27 L232.2 199.55 L233.2 200.79 L234.2 201.99 L235.2 203.16 L236.2 204.28 L237.2 205.37 L238.2 206.43 L239.2 207.45 L240.2 208.45 L241.2 209.41 L242.2 210.34 L243.2 211.25 L244.2 212.12 L245.2 212.98 L246.2 213.8 L247.2 214.61 L248.2 215.39 L249.2 216.15 L250.2 216.88 L251.2 217.6 L252.2 218.3 L253.2 218.98 L254.2 219.64 L255.2 220.28 L256.2 220.91 L257.2 221.52 L258.2 222.11 L259.2 222.69 L260.2 223.25 L261.2 223.8 L262.2 224.34 L263.2 224.86 L264.2 225.38 L265.2 225.88 L266.2 226.36 L267.2 226.84 L268.2 227.31 L269.2 227.76 L270.2 228.21 L271.2 228.64 L272.2 229.07 L273.2 229.49 L274.2 229.9 L275.2 230.3 L276.2 230.69 L277.2 231.07 L278.2 231.45 L279.2 231.82 L280.2 232.18 L281.2 232.54 L282.2 232.89 L283.2 233.23 L284.2 233.56 L285.2 233.89 L286.2 234.22 L287.2 234.54 L288.2 234.85 L289.2 235.16 L290.2 235.46 L291.2 235.76 L292.2 236.05 L293.2 236.34 L294.2 236.62 L295.2 236.9 L296.2 237.18 L297.2 237.45 L298.2 237.72 L299.2 237.98 L300.2 238.24 L301.2 238.49 L302.2 238.75 L303.2 238.99 L304.2 239.24 L305.2 239.48 L306.2 239.72 L307.2 239.96 L308.2 240.19 L309.2 240.42 L310.2 240.64 L311.2 240.87 L312.2 241.09 L313.2 241.3 L314.2 241.52 L315.2 241.73 L316.2 241.94 L317.2 242.15 L318.2 242.36 L319.2 242.56 L320.2 242.76 L321.2 242.96 L322.2 243.15 L323.2 243.35 L324.2 243.54 L325.2 243.73 L326.2 243.92 L327.2 244.1 L328.2 244.29 L329.2 244.47 L330.2 244.65 L331.2 244.83 L332.2 245 L333.2 245.18 L334.2 245.35 L335.2 245.52 L336.2 245.69 L337.2 245.86 L338.2 246.02 L339.2 246.19 L340.2 246.35 L341.2 246.51 L342.2 246.67 L343.2 246.83 L344.2 246.99 L345.2 247.14 L346.2 247.3 L347.2 247.45 L348.2 247.6 L349.2 247.75 L350.2 247.9 L351.2 248.05 L352.2 248.19 L353.2 248.34 L354.2 248.48 L355.2 248.62 L356.2 248.77 L357.2 248.91 L358.2 249.04 L359.2 249.18 L360.2 249.32 L361.2 249.45 L362.2 249.59 L363.2 249.72 L364.2 249.85 L365.2 249.98 L366.2 250.11 L367.2 250.24 L368.2 250.37 L369.2 250.49 L370.2 250.62 L371.2 250.74 L372.2 250.87 L373.2 250.99 L374.2 251.11 L375.2 251.23 L376.2 251.35 L377.2 251.47 L378.2 251.58 L379.2 251.7 L380.2 251.82 L381.2 251.93 L382.2 252.04 L383.2 252.16 L384.2 252.27 L385.2 252.38 L386.2 252.49 L387.2 252.6 L388.2 252.71 L389.2 252.81 L390.2 252.92 L391.2 253.03 L392.2 253.13 L393.2 253.24 L394.2 253.34 L395.2 253.44 L396.2 253.54 L397.2 253.64 L398.2 253.74 L399.2 253.84 L400.2 253.94 L401.2 254.04 L402.2 254.14 L403.2 254.23 L404.2 254.33 L405.2 254.42 L406.2 254.52 L407.2 254.61 L408.2 254.7 L409.2 254.8 L410.2 254.89 L411.2 254.98 L412.2 255.07 L413.2 255.16 L414.2 255.25 L415.2 255.33 L416.2 255.42 L417.2 255.51 L418.2 255.59 L419.2 255.68 L420.2 255.76 L421.2 255.85 L422.2 255.93 L423.2 256.01 L424.2 256.09 L425.2 256.18 L426.2 256.26 L427.2 256.34 L428.2 256.42 L429.2 256.49 L430.2 256.57 L431.2 256.65 L432.2 256.73" fill="none" stroke="#fd6368" stroke-width="2.0"/>
<rect x="224.2" y="4.5" width="208.3" height="256.7" fill="none" stroke="#222" stroke-width="1.1"/>
<path d="M223.9 4.5V175.4" stroke="#5a5a5a" stroke-width="1.3"/>
<path d="M224.4 175.4V262.4" stroke="#111" stroke-width="1.2"/>
<path d="M222.2 175.4H432.5" stroke="#222" stroke-width="1.1"/>
<path d="M224.2 261.2H432.5" stroke="#555" stroke-width="1.4"/>
<path d="M222.4 3.95H224.2M221.2 21.1H224.2M222.4 38.25H224.2M221.2 55.4H224.2M222.4 72.55H224.2M221.2 89.7H224.2M222.4 106.85H224.2M221.2 124H224.2M222.4 141.15H224.2M221.2 158.3H224.2M222.4 175.45H224.2M221.2 197.2H224.2M222.4 213.2H224.2M221.2 229.2H224.2M222.4 245.2H224.2M221.2 261.2H224.2M241.56 261.2V264.2M258.92 261.2V263M276.27 261.2V264.2M293.63 261.2V263M310.99 261.2V264.2M328.35 261.2V263M345.71 261.2V264.2M363.07 261.2V263M380.42 261.2V264.2M397.78 261.2V263M415.14 261.2V264.2M432.5 261.2V263" stroke="#222" stroke-width="1" fill="none"/>
<text x="219.2" y="24.6" font-size="11.1" text-anchor="end" fill="#111" >10</text>
<text x="219.2" y="58.9" font-size="11.1" text-anchor="end" fill="#111" >5</text>
<text x="219.2" y="93.2" font-size="11.1" text-anchor="end" fill="#111" >0</text>
<text x="219.2" y="127.5" font-size="11.1" text-anchor="end" fill="#111" >−5</text>
<text x="219.2" y="161.8" font-size="11.1" text-anchor="end" fill="#111" >−10</text>
<text x="219.2" y="200.6" font-size="11.1" text-anchor="end" fill="#111" >0.6</text>
<text x="219.2" y="232.6" font-size="11.1" text-anchor="end" fill="#111" >0.3</text>
<text x="219.2" y="264.6" font-size="11.1" text-anchor="end" fill="#111" >0.0</text>
<text x="241.56" y="276" font-size="11.2" text-anchor="middle" fill="#111" >540</text>
<text x="276.27" y="276" font-size="11.2" text-anchor="middle" fill="#111" >560</text>
<text x="310.99" y="276" font-size="11.2" text-anchor="middle" fill="#111" >580</text>
<text x="345.71" y="276" font-size="11.2" text-anchor="middle" fill="#111" >600</text>
<text x="380.42" y="276" font-size="11.2" text-anchor="middle" fill="#111" >620</text>
<text x="415.14" y="276" font-size="11.2" text-anchor="middle" fill="#111" >640</text>
<text x="274" y="288.8" font-size="14.5" text-anchor="start" fill="#111" >Wavelength (nm)</text>
<text transform="translate(198.6 89.6) rotate(-90)" font-size="14" text-anchor="middle" fill="#111">CPL</text>
<text transform="translate(202.3 218) rotate(-90)" font-size="14.2" text-anchor="middle" fill="#111">DC</text>
<path d="M361.6 13.1H386.4" stroke="#4bb3f8" stroke-width="2.2"/>
<path d="M362.4 29.2H385.8" stroke="#fe6266" stroke-width="2.2"/>
<path d="M362.4 45.2H385.8" stroke="#444" stroke-width="2.2"/>
<text x="388.4" y="18.5" font-size="10.3">(<tspan font-style="italic">S</tspan>)-<tspan font-weight="bold">1</tspan><tspan font-size="6.8" dy="2">NP</tspan></text>
<text x="388.4" y="33.6" font-size="10.3">(<tspan font-style="italic">R</tspan>)-<tspan font-weight="bold">1</tspan><tspan font-size="6.8" dy="2.1">NP</tspan></text>
<text x="388.4" y="48.8" font-size="10.3">(<tspan font-style="italic">R</tspan>)-<tspan font-weight="bold">1</tspan><tspan font-size="6.8" dy="2.3">mono</tspan></text>
<rect x="468.0" y="4.5" width="208.20000000000005" height="171.5" fill="url(#gd)"/>
<rect x="468.0" y="176.0" width="208.20000000000005" height="85.39999999999998" fill="#fff0f0"/>
<clipPath id="cd"><rect x="468.0" y="4.5" width="208.20000000000005" height="171.5"/></clipPath>
<g clip-path="url(#cd)">
<path d="M468 46.7 L468.9 50.19 L469.8 53.47 L470.7 55.89 L471.6 58.78 L472.5 61.52 L473.4 62.41 L474.3 63.74 L475.2 65.12 L476.1 65.48 L477 65.1 L477.9 65.03 L478.8 64.33 L479.7 63.12 L480.6 61.9 L481.5 61.21 L482.4 59.2 L483.3 56.28 L484.2 53.64 L485.1 50.23 L486 47.38 L486.9 44.42 L487.8 42.36 L488.7 40.7 L489.6 39.2 L490.5 37.65 L491.4 35.34 L492.3 34.35 L493.2 34.13 L494.1 33.17 L495 32.22 L495.9 30.86 L496.8 31.09 L497.7 32.32 L498.6 31.63 L499.5 30.64 L500.4 29.82 L501.3 27.6 L502.2 26.6 L503.1 25.51 L504 24.83 L504.9 22.85 L505.8 20.85 L506.7 18.62 L507.6 16.58 L508.5 16.56 L509.4 18.43 L510.3 20.51 L511.2 23.33 L512.1 26.7 L513 28.97 L513.9 31.85 L514.8 33.36 L515.7 35.28 L516.6 37.33 L517.5 38.25 L518.4 38.49 L519.3 38.13 L520.2 37.41 L521.1 36.31 L522 35.02 L522.9 35.27 L523.8 34.56 L524.7 31.51 L525.6 28.53 L526.5 25.06 L527.4 24.05 L528.3 25.83 L529.2 27.29 L530.1 27.36 L531 28.74 L531.9 31.36 L532.8 34.38 L533.7 35.92 L534.6 37.31 L535.5 38.61 L536.4 39.18 L537.3 40.49 L538.2 41.51 L539.1 42.87 L540 42.06 L540.9 41.87 L541.8 41.07 L542.7 39.83 L543.6 40.4 L544.5 41.43 L545.4 41.04 L546.3 37.41 L547.2 34.96 L548.1 34.83 L549 34.3 L549.9 37.12 L550.8 34.57 L551.7 31.36 L552.6 31.69 L553.5 33.6 L554.4 37.48 L555.3 41.61 L556.2 40.58 L557.1 40.69 L558 41.06 L558.9 42.07 L559.8 43.35 L560.7 44.47 L561.6 45.61 L562.5 46.7 L563.4 48.9 L564.3 50.68 L565.2 53.28 L566.1 54.4 L567 55.25 L567.9 56.1 L568.8 55.59 L569.7 55.83 L570.6 55.78 L571.5 55.8 L572.4 56.64 L573.3 57.07 L574.2 58.14 L575.1 58.06 L576 58.13 L576.9 57.97 L577.8 58.09 L578.7 58.11 L579.6 57.86 L580.5 57.96 L581.4 57.46 L582.3 57.01 L583.2 56.95 L584.1 57.02 L585 57.43 L585.9 56.79 L586.8 57.81 L587.7 59.36 L588.6 60.58 L589.5 61.3 L590.4 61.9 L591.3 62.16 L592.2 63.61 L593.1 64.68 L594 65.42 L594.9 67.07 L595.8 68.13 L596.7 69.74 L597.6 70.57 L598.5 71.04 L599.4 71.01 L600.3 70.49 L601.2 70.55 L602.1 69.74 L603 69.11 L603.9 68.77 L604.8 68.92 L605.7 68.88 L606.6 69.69 L607.5 70.46 L608.4 71.45 L609.3 73.69 L610.2 75.33 L611.1 77.16 L612 78.33 L612.9 79.91 L613.8 80.77 L614.7 81.39 L615.6 81.8 L616.5 81.11 L617.4 79.65 L618.3 78.99 L619.2 77.12 L620.1 76.13 L621 75.14 L621.9 73.55 L622.8 72.16 L623.7 71.15 L624.6 69.61 L625.5 67.96 L626.4 67.84 L627.3 68.89 L628.2 69.95 L629.1 72.52 L630 74.57 L630.9 77.19 L631.8 79.2 L632.7 80.12 L633.6 81.46 L634.5 81.23 L635.4 80.51 L636.3 79.98 L637.2 80.57 L638.1 80.74 L639 81.6 L639.9 81.97 L640.8 81.75 L641.7 81.18 L642.6 80.31 L643.5 80.48 L644.4 81.01 L645.3 82.1 L646.2 82.35 L647.1 84.13 L648 84.9 L648.9 84.67 L649.8 85.1 L650.7 84.57 L651.6 84.04 L652.5 83.86 L653.4 82.89 L654.3 83 L655.2 82.57 L656.1 82.37 L657 81.83 L657.9 81.03 L658.8 80.82 L659.7 81.18 L660.6 80.86 L661.5 80.98 L662.4 81.15 L663.3 81.47 L664.2 81.88 L665.1 81.14 L666 81.89 L666.9 81.73 L667.8 81.6 L668.7 82.04 L669.6 82.08 L670.5 83 L671.4 83.65 L672.3 84.22 L673.2 84.96 L674.1 86.15 L675 86.78 L675.9 87.21" fill="none" stroke="#4bb3f8" stroke-width="2.5" stroke-linejoin="round"/>
<path d="M468 121.6 L469 119.04 L470 116.44 L471 114.29 L472 112.53 L473 112.64 L474 111.43 L475 110.6 L476 111.45 L477 111.78 L478 111.26 L479 113 L480 113.34 L481 115.58 L482 117.85 L483 120.7 L484 124.12 L485 126.53 L486 130.15 L487 130.25 L488 130.42 L489 132.9 L490 135.03 L491 139.24 L492 144.16 L493 146.34 L494 147.18 L495 147.31 L496 147.21 L497 145.83 L498 145.5 L499 145.36 L500 145.04 L501 146.31 L502 147.75 L503 148.61 L504 150.76 L505 152.2 L506 153.83 L507 156.65 L508 158.18 L509 159.35 L510 161.06 L511 159.38 L512 157.59 L513 153.87 L514 149.77 L515 148.37 L516 146.76 L517 147.67 L518 148.19 L519 146.66 L520 144.66 L521 142.19 L522 140.13 L523 143.12 L524 145.43 L525 145.87 L526 145.73 L527 147.1 L528 149.41 L529 147.14 L530 145.51 L531 139.21 L532 134.87 L533 133.15 L534 131.11 L535 128.91 L536 127.82 L537 126.28 L538 125.6 L539 122.98 L540 119.72 L541 119.36 L542 118.78 L543 119.74 L544 121.35 L545 123.61 L546 125.36 L547 127.54 L548 131.06 L549 133.84 L550 136.89 L551 135.79 L552 133.84 L553 135.66 L554 137.81 L555 135.26 L556 131.66 L557 129.96 L558 127.75 L559 129.51 L560 130.95 L561 132.9 L562 134.77 L563 134.58 L564 135.49 L565 133.08 L566 131.04 L567 130.51 L568 129.96 L569 130.38 L570 129.98 L571 128.9 L572 128.72 L573 125.74 L574 123.39 L575 121.68 L576 119.16 L577 118.58 L578 117.86 L579 120.48 L580 122.91 L581 123.48 L582 124.4 L583 120.4 L584 116.89 L585 116.19 L586 115.58 L587 115.48 L588 114.46 L589 115.44 L590 117.14 L591 118.14 L592 119.85 L593 121.02 L594 120.7 L595 119.13 L596 117.74 L597 116.19 L598 114.21 L599 113.03 L600 111.45 L601 111.67 L602 110.89 L603 110.42 L604 111.25 L605 112.58 L606 113.1 L607 113.3 L608 112.26 L609 112 L610 110.78 L611 110.31 L612 106.03 L613 102.18 L614 100.47 L615 101.92 L616 102.23 L617 101.2 L618 100.28 L619 100.34 L620 98.65 L621 97.84 L622 97.17 L623 96.68 L624 95.68 L625 93.91 L626 93.65 L627 94.97 L628 96.13 L629 97.7 L630 100.61 L631 99.47 L632 99.17 L633 96.65 L634 93.65 L635 92.23 L636 91.6 L637 92.79 L638 93.91 L639 95.16 L640 96.85 L641 97.68 L642 98.52 L643 98.36 L644 98.8 L645 98.83 L646 98.67 L647 99.38 L648 100.86 L649 101.55 L650 101.69 L651 102.38 L652 103.53 L653 103.45 L654 102.9 L655 102.82 L656 102.33 L657 101.53 L658 100.75 L659 99.88 L660 98.47 L661 97.84 L662 97.5 L663 96.79 L664 96.19 L665 96.14 L666 95.99 L667 95.64 L668 94.68 L669 94.25 L670 94.17 L671 94.73 L672 94.2 L673 94.67 L674 95.03 L675 96 L676 95.57" fill="none" stroke="#fe6266" stroke-width="2.5" stroke-linejoin="round"/>
<path d="M468 111.55 L468.4 112.98 L468.8 108.83 L469.2 107.49 L469.6 104.15 L470 104.74 L470.4 105.12 L470.8 102.44 L471.2 102.56 L471.6 98.78 L472 98.8 L472.4 98.78 L472.8 97.39 L473.2 96.82 L473.6 96.26 L474 95.54 L474.4 94.64 L474.8 94.7 L475.2 92.5 L475.6 91.48 L476 91.24 L476.4 88.97 L476.8 89.09 L477.2 86.51 L477.6 84.33 L478 84.51 L478.4 85.39 L478.8 86.98 L479.2 86.59 L479.6 85.57 L480 85.61 L480.4 87.23 L480.8 89.19 L481.2 88.64 L481.6 86.26 L482 86.87 L482.4 86.21 L482.8 87.88 L483.2 87.13 L483.6 86.24 L484 88.29 L484.4 89.19 L484.8 90.02 L485.2 91.93 L485.6 87.68 L486 84.82 L486.4 86.72 L486.8 88.96 L487.2 90.41 L487.6 91.76 L488 93.57 L488.4 92.56 L488.8 92.76 L489.2 92.65 L489.6 93.06 L490 92.27 L490.4 92.2 L490.8 91.6 L491.2 92.81 L491.6 93.95 L492 97.46 L492.4 97.8 L492.8 101 L493.2 102.05 L493.6 100.66 L494 101.31 L494.4 102.43 L494.8 103.7 L495.2 105.53 L495.6 102.93 L496 106.47 L496.4 105.69 L496.8 104.57 L497.2 103.59 L497.6 101.66 L498 101.65 L498.4 97.45 L498.8 98 L499.2 99.57 L499.6 103.74 L500 104.11 L500.4 105.01 L500.8 103.91 L501.2 104.19 L501.6 103.07 L502 103.16 L502.4 103.15 L502.8 102.76 L503.2 102.35 L503.6 101.26 L504 100.37 L504.4 101.16 L504.8 99.78 L505.2 100.05 L505.6 100.19 L506 98.95 L506.4 98.98 L506.8 98.44 L507.2 97.85 L507.6 99.11 L508 100 L508.4 98.55 L508.8 95.75 L509.2 96.21 L509.6 95.01 L510 94.06 L510.4 93.21 L510.8 92.7 L511.2 92.45 L511.6 90.86 L512 88.02 L512.4 91.21 L512.8 93.69 L513.2 95.25 L513.6 96 L514 98.85 L514.4 91.86 L514.8 92 L515.2 90.39 L515.6 88.12 L516 88.88 L516.4 91.13 L516.8 90.93 L517.2 92.04 L517.6 92.58 L518 89.51 L518.4 89.17 L518.8 88.84 L519.2 88.95 L519.6 89.78 L520 86.68 L520.4 87.08 L520.8 85.85 L521.2 87.06 L521.6 88.69 L522 90.21 L522.4 91.2 L522.8 93.21 L523.2 92.08 L523.6 90.33 L524 89.04 L524.4 87.18 L524.8 87.89 L525.2 90.08 L525.6 91.09 L526 95.26 L526.4 92.42 L526.8 93.07 L527.2 94.65 L527.6 94.03 L528 97.18 L528.4 95.03 L528.8 95.61 L529.2 96.9 L529.6 96.72 L530 97.67 L530.4 98.65 L530.8 101.62 L531.2 103.4 L531.6 102.63 L532 104.3 L532.4 103.54 L532.8 101.67 L533.2 99.86 L533.6 98.73 L534 96.96 L534.4 99.42 L534.8 102 L535.2 100.87 L535.6 98.38 L536 97.87 L536.4 97.83 L536.8 98.55 L537.2 99.01 L537.6 98.15 L538 100.52 L538.4 99.92 L538.8 99.88 L539.2 99.56 L539.6 100.34 L540 99.55 L540.4 100.37 L540.8 101.38 L541.2 100.89 L541.6 99.21 L542 93.31 L542.4 96.92 L542.8 98.34 L543.2 97.49 L543.6 95.32 L544 93.44 L544.4 91.31 L544.8 90.46 L545.2 88.97 L545.6 87.14 L546 90.4 L546.4 92.49 L546.8 95.24 L547.2 96.33 L547.6 99.27 L548 100.8 L548.4 102.75 L548.8 102.26 L549.2 101.75 L549.6 99.64 L550 98.11 L550.4 97.24 L550.8 93.08 L551.2 95 L551.6 93.65 L552 94.89 L552.4 94.34 L552.8 94.52 L553.2 92.11 L553.6 94.08 L554 94.74 L554.4 94.53 L554.8 96.48 L555.2 94.47 L555.6 93.01 L556 92.89 L556.4 89.43 L556.8 92.33 L557.2 92.81 L557.6 92.01 L558 92.45 L558.4 91.81 L558.8 91.76 L559.2 93.55 L559.6 92.26 L560 91 L560.4 90.59 L560.8 89.63 L561.2 89.56 L561.6 88.29 L562 88.71 L562.4 86.78 L562.8 85.61 L563.2 86.75 L563.6 84.78 L564 82.88 L564.4 77.72 L564.8 79.64 L565.2 84 L565.6 84.48 L566 85.08 L566.4 84.95 L566.8 85.67 L567.2 82.78 L567.6 84.23 L568 84.58 L568.4 85.47 L568.8 85.34 L569.2 85.02 L569.6 85.21 L570 86.41 L570.4 83.99 L570.8 84.55 L571.2 84.71 L571.6 84.08 L572 84.13 L572.4 85.42 L572.8 85.93 L573.2 85.1 L573.6 86.07 L574 83.13 L574.4 86.41 L574.8 85.88 L575.2 87.25 L575.6 87.4 L576 88.19 L576.4 88.91 L576.8 89.96 L577.2 90.96 L577.6 90.86 L578 93.19 L578.4 93.23 L578.8 92.64 L579.2 93.89 L579.6 94.23 L580 94.3 L580.4 93.68 L580.8 94.11 L581.2 93.47 L581.6 93.67 L582 93.87 L582.4 94.57 L582.8 94.76 L583.2 95.39 L583.6 96.25 L584 96.77 L584.4 97.19 L584.8 98.08 L585.2 98.14 L585.6 99.75 L586 100.52 L586.4 100.28 L586.8 104.03 L587.2 100.49 L587.6 102.77 L588 103.47 L588.4 103.65 L588.8 104.8 L589.2 105.02 L589.6 103.76 L590 102.24 L590.4 102.38 L590.8 102.17 L591.2 101.26 L591.6 101.57 L592 101.11 L592.4 98.86 L592.8 96.72 L593.2 97.71 L593.6 98.43 L594 96.27 L594.4 92.49 L594.8 94.92 L595.2 93.52 L595.6 92 L596 91.94 L596.4 93.31 L596.8 90.77 L597.2 92.79 L597.6 88.59 L598 85.75 L598.4 84.06 L598.8 84.82 L599.2 82.46 L599.6 85.28 L600 83.23 L600.4 82.14 L600.8 81.04 L601.2 81.66 L601.6 80.91 L602 80.7 L602.4 80.12 L602.8 81.5 L603.2 81.16 L603.6 81.5 L604 82.8 L604.4 81.34 L604.8 81.48 L605.2 81.03 L605.6 80.5 L606 81.1 L606.4 83.69 L606.8 81.8 L607.2 84.69 L607.6 86.35 L608 87.07 L608.4 86.72 L608.8 88.16 L609.2 87.71 L609.6 87.91 L610 88.55 L610.4 88.24 L610.8 89.34 L611.2 93.67 L611.6 90.72 L612 91.72 L612.4 91.59 L612.8 92.86 L613.2 92.51 L613.6 92.1 L614 93.21 L614.4 92.01 L614.8 93.7 L615.2 93.65 L615.6 91.97 L616 95.4 L616.4 94.34 L616.8 94.55 L617.2 93.75 L617.6 93.41 L618 93.69 L618.4 94.13 L618.8 94.56 L619.2 95.02 L619.6 94.69 L620 95.16 L620.4 94.22 L620.8 94.61 L621.2 93.42 L621.6 92.57 L622 93.06 L622.4 92.14 L622.8 91.01 L623.2 91.84 L623.6 92.1 L624 92.24 L624.4 92.25 L624.8 91.39 L625.2 91.15 L625.6 91.06 L626 90.77 L626.4 91.18 L626.8 90.94 L627.2 90.75 L627.6 89.7 L628 90.42 L628.4 86.82 L628.8 90.3 L629.2 90.14 L629.6 88.6 L630 89.24 L630.4 88.94 L630.8 89.73 L631.2 88.84 L631.6 88.35 L632 90.37 L632.4 89.52 L632.8 88.56 L633.2 88.6 L633.6 88.29 L634 86.79 L634.4 86.25 L634.8 83.36 L635.2 86.07 L635.6 85.75 L636 86.23 L636.4 85.52 L636.8 85.54 L637.2 85.76 L637.6 88.05 L638 86.68 L638.4 87.32 L638.8 86.96 L639.2 87.77 L639.6 87.84 L640 89.28 L640.4 88.92 L640.8 89.76 L641.2 90.01 L641.6 91.5 L642 88.85 L642.4 93.15 L642.8 93.5 L643.2 91.4 L643.6 92.42 L644 92.14 L644.4 90.25 L644.8 89.75 L645.2 91.62 L645.6 90.33 L646 93.88 L646.4 89.55 L646.8 90.8 L647.2 89.07 L647.6 90.96 L648 88.48 L648.4 87.99 L648.8 87.3 L649.2 86.75 L649.6 85.55 L650 84.98 L650.4 85.6 L650.8 85.38 L651.2 84.78 L651.6 85.05 L652 85.68 L652.4 84.83 L652.8 85.9 L653.2 86.33 L653.6 83.95 L654 85.74 L654.4 86.74 L654.8 87.76 L655.2 88.16 L655.6 90.56 L656 89.1 L656.4 89.21 L656.8 89.07 L657.2 91.11 L657.6 89.92 L658 89.62 L658.4 87.33 L658.8 87.61 L659.2 89.97 L659.6 87.9 L660 87.39 L660.4 88.01 L660.8 88.73 L661.2 87.83 L661.6 85.53 L662 83.95 L662.4 84.75 L662.8 86.79 L663.2 86.93 L663.6 88.65 L664 89.04 L664.4 90.14 L664.8 91.18 L665.2 92.1 L665.6 91.76 L666 91.12 L666.4 89.86 L666.8 88.89 L667.2 90.71 L667.6 88.83 L668 87.44 L668.4 87.17 L668.8 86.85 L669.2 87.99 L669.6 88.12 L670 88.24 L670.4 88.84 L670.8 89.77 L671.2 88.39 L671.6 88.69 L672 91.22 L672.4 89.63 L672.8 89.69 L673.2 90.07 L673.6 91.08 L674 91.77 L674.4 92.49 L674.8 92.06 L675.2 93.75 L675.6 93.26 L676 94.02" fill="none" stroke="#000" stroke-width="2.6" stroke-linejoin="round"/>
</g>
<path d="M468 240.7C469.17 239.05 472.32 234.72 475 230.8C477.68 226.88 481.08 221.73 484.1 217.2C487.12 212.67 490.08 207.8 493.1 203.6C496.12 199.4 499.18 195.07 502.2 192C505.22 188.93 507.68 186.78 511.2 185.2C514.72 183.62 519.28 182.63 523.3 182.5C527.32 182.37 531.28 183.18 535.3 184.4C539.32 185.62 543.38 187.67 547.4 189.8C551.42 191.93 555.63 194.9 559.4 197.2C563.17 199.5 565.72 201.02 570 203.6C574.28 206.18 580.08 209.5 585.1 212.7C590.12 215.9 595.08 219.58 600.1 222.8C605.12 226.02 610.17 229.1 615.2 232C620.23 234.9 625.28 237.7 630.3 240.2C635.32 242.7 640.28 244.97 645.3 247C650.32 249.03 655.25 250.83 660.4 252.4C665.55 253.97 673.57 255.73 676.2 256.4" fill="none" stroke="#fd6368" stroke-width="2.0"/>
<rect x="468.0" y="4.5" width="208.20000000000005" height="256.9" fill="none" stroke="#2a2a2a" stroke-width="1.1"/>
<path d="M468 4.5V176" stroke="#5a5a5a" stroke-width="1.3"/>
<path d="M466 176H676.2" stroke="#222" stroke-width="1.3"/>
<path d="M468 261.4H676.2" stroke="#555" stroke-width="1.4"/>
<path d="M465 4.2H468M466.2 25.65H468M465 47.1H468M466.2 68.55H468M465 90H468M466.2 111.45H468M465 132.9H468M466.2 154.35H468M465 175.8H468M466.2 184.9H468M465 201.7H468M466.2 218.5H468M465 235.3H468M466.2 252.1H468M468 261.4V264.4M494.02 261.4V263.2M520.05 261.4V264.4M546.08 261.4V263.2M572.1 261.4V264.4M598.12 261.4V263.2M624.15 261.4V264.4M650.18 261.4V263.2M676.2 261.4V264.4" stroke="#222" stroke-width="1" fill="none"/>
<text x="463" y="50.6" font-size="11.1" text-anchor="end" fill="#111" >2</text>
<text x="463" y="93.5" font-size="11.1" text-anchor="end" fill="#111" >0</text>
<text x="463" y="136.4" font-size="11.1" text-anchor="end" fill="#111" >−2</text>
<text x="463" y="179.3" font-size="11.1" text-anchor="end" fill="#111" >−4</text>
<text x="463" y="7.2" font-size="11.1" text-anchor="end" fill="#111" >4</text>
<text x="463" y="205.1" font-size="11.1" text-anchor="end" fill="#111" >0.4</text>
<text x="463" y="238.7" font-size="11.1" text-anchor="end" fill="#111" >0.2</text>
<text x="468" y="276" font-size="11.2" text-anchor="middle" fill="#111" >500</text>
<text x="520.05" y="276" font-size="11.2" text-anchor="middle" fill="#111" >550</text>
<text x="572.1" y="276" font-size="11.2" text-anchor="middle" fill="#111" >600</text>
<text x="624.15" y="276" font-size="11.2" text-anchor="middle" fill="#111" >650</text>
<text x="676.2" y="276" font-size="11.2" text-anchor="middle" fill="#111" >700</text>
<text x="518.2" y="288.8" font-size="14.5" text-anchor="start" fill="#111" >Wavelength (nm)</text>
<text transform="translate(449.2 90) rotate(-90)" font-size="14" text-anchor="middle" fill="#111">CPL</text>
<text transform="translate(447.5 218.2) rotate(-90)" font-size="14.2" text-anchor="middle" fill="#111">DC</text>
<path d="M607.2 13.9H631.6" stroke="#4bb3f8" stroke-width="2.2"/>
<path d="M607.8 29.7H631.2" stroke="#fe6266" stroke-width="2.2"/>
<path d="M607.8 45.5H631.2" stroke="#000" stroke-width="2.2"/>
<text x="633.3" y="18.9" font-size="10.3">(<tspan font-style="italic">S</tspan>)-<tspan font-weight="bold">2</tspan><tspan font-size="6.8" dy="2">NP</tspan></text>
<text x="633.3" y="33.7" font-size="10.3">(<tspan font-style="italic">R</tspan>)-<tspan font-weight="bold">2</tspan><tspan font-size="6.8" dy="2.1">NP</tspan></text>
<text x="633.3" y="48.5" font-size="10.3">(<tspan font-style="italic">R</tspan>)-<tspan font-weight="bold">2</tspan><tspan font-size="6.8" dy="2.3">mono</tspan></text>
<text x="-0.6" y="20.6" font-size="27.5" text-anchor="start" fill="#000" >a</text>
<text x="-0.4" y="145.2" font-size="27.5" text-anchor="start" fill="#000" >b</text>
<text x="193.8" y="26" font-size="27.5" text-anchor="start" fill="#000" >c</text>
<text x="443.8" y="25.7" font-size="27.5" text-anchor="start" fill="#000" >d</text>
</svg>
</body></html>
